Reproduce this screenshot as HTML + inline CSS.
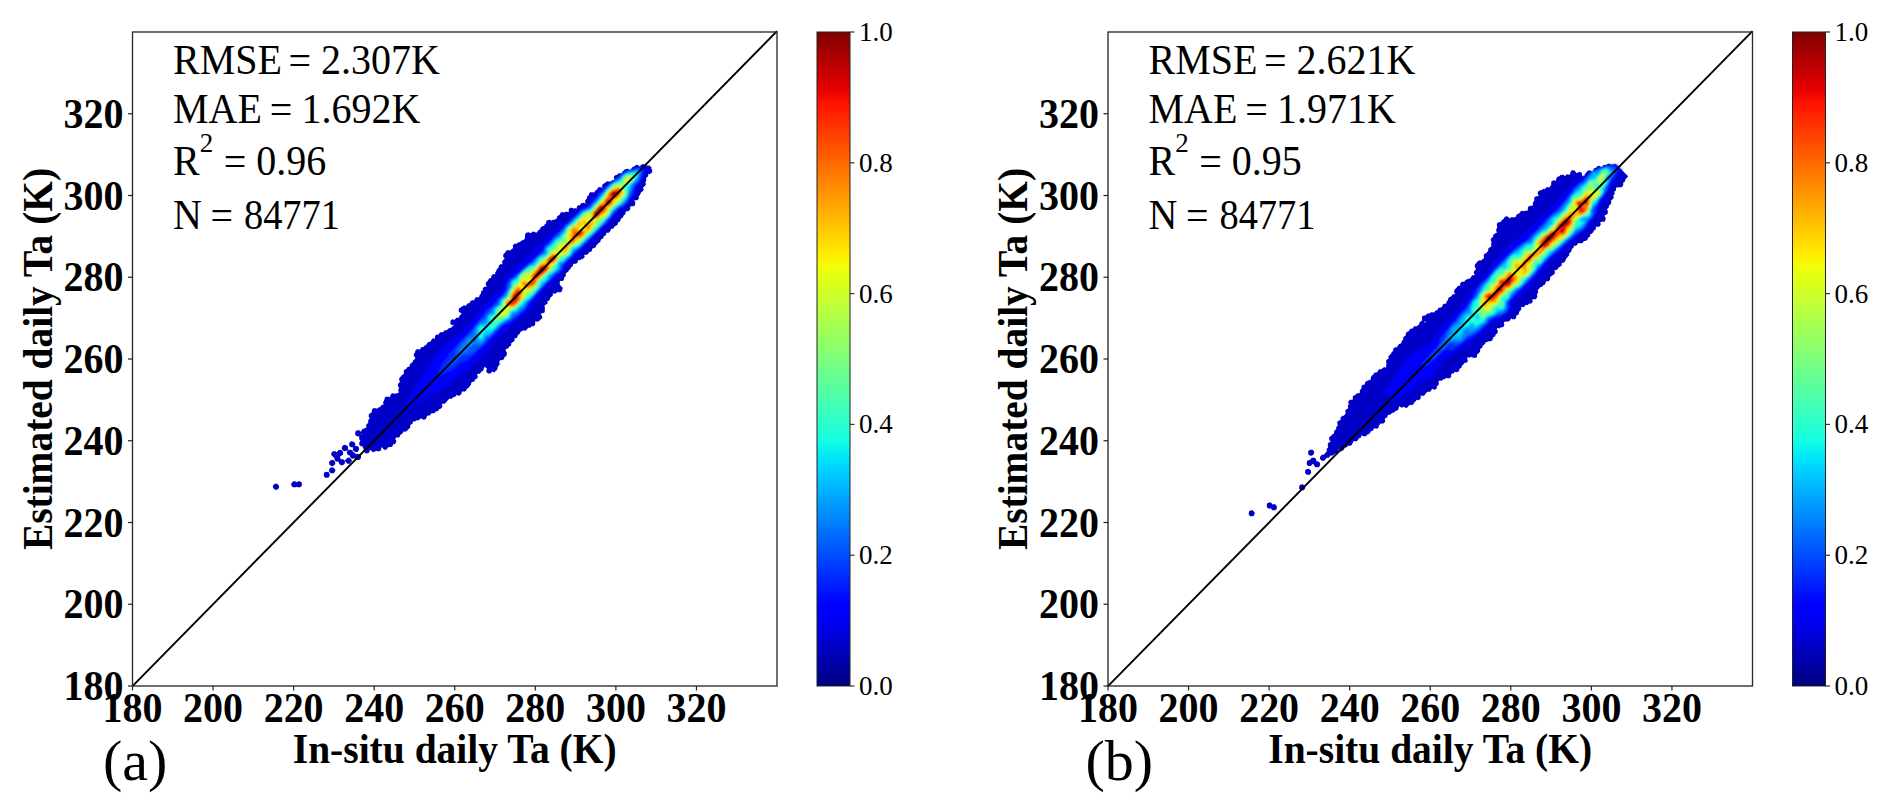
<!DOCTYPE html>
<html><head><meta charset="utf-8"><style>
html,body{margin:0;padding:0;background:#fff;width:1892px;height:810px;overflow:hidden}
svg{display:block}
.tb{font-family:"Liberation Serif",serif;font-weight:bold;font-size:40px;fill:#000}
.tr{font-family:"Liberation Serif",serif;font-size:40px;fill:#000}
.tc{font-family:"Liberation Serif",serif;font-size:27px;fill:#000}
</style></head><body>
<svg width="1892" height="810" viewBox="0 0 1892 810">
<defs><linearGradient id="jet" x1="0" y1="1" x2="0" y2="0"><stop offset="0" stop-color="rgb(0, 0, 128)"/><stop offset="0.11" stop-color="rgb(0, 0, 255)"/><stop offset="0.125" stop-color="rgb(0, 0, 255)"/><stop offset="0.34" stop-color="rgb(0, 219, 255)"/><stop offset="0.35" stop-color="rgb(0, 230, 247)"/><stop offset="0.375" stop-color="rgb(21, 255, 226)"/><stop offset="0.64" stop-color="rgb(239, 255, 8)"/><stop offset="0.65" stop-color="rgb(247, 245, 0)"/><stop offset="0.66" stop-color="rgb(255, 236, 0)"/><stop offset="0.89" stop-color="rgb(255, 19, 0)"/><stop offset="0.91" stop-color="rgb(232, 0, 0)"/><stop offset="1.0" stop-color="rgb(128, 0, 0)"/></linearGradient><filter id="bl" x="-5%" y="-5%" width="110%" height="110%"><feGaussianBlur stdDeviation="0.8"/></filter></defs>
<rect width="1892" height="810" fill="#fff"/>
<path fill="#0000c8" fill-rule="evenodd" d="M274.8 483.8L273.2 485.2L272.8 487.2L274.8 489.8L277.2 489.8L278.8 488.2L279.2 486.2L277.2 483.8ZM291.2 483.8L291.2 485.2L292.8 487.2L295.8 487.2L296.2 486.8L297.2 487.2L300.2 487.2L301.8 485.8L301.8 482.8L299.8 481.2L298.2 481.2L296.8 482.2L295.2 481.2L293.8 481.2L292.8 481.8ZM335.2 469.2L332.8 467.2L330.2 467.8L329.2 469.2L329.2 471.8L328.8 472.2L325.8 471.8L324.2 472.8L323.8 473.8L323.8 476.2L325.2 477.8L327.8 477.8L328.8 477.2L329.8 475.8L329.2 472.8L329.8 472.2L330.8 473.2L333.8 473.2L335.2 471.2ZM328.8 472.2L329.2 471.8L329.8 472.2L329.2 472.8ZM358.8 447.2L357.8 446.2L356.8 446.2L355.2 445.2L355.2 443.2L353.8 441.8L351.2 441.2L350.2 441.8L349.2 443.2L349.2 445.8L350.8 447.2L352.8 447.2L353.2 447.8L352.8 448.8L353.2 450.8L352.8 451.2L352.2 450.2L351.2 449.8L348.8 449.8L348.2 450.2L347.8 449.8L348.2 448.2L347.8 446.2L345.2 444.8L343.2 445.2L342.2 446.2L341.8 447.8L342.2 449.8L341.8 450.2L340.2 449.8L338.2 450.2L336.8 452.2L335.8 451.2L332.8 451.2L331.2 453.2L331.2 454.8L331.8 455.8L334.2 457.8L334.8 460.2L334.2 460.8L332.8 459.8L330.8 460.2L329.2 461.8L329.2 464.2L330.8 465.8L332.8 466.2L335.2 464.2L335.2 461.8L335.8 461.2L337.2 461.8L338.2 461.2L339.2 463.8L340.8 465.2L342.8 465.2L344.8 463.8L344.8 461.8L345.2 461.2L347.2 463.8L349.8 463.8L351.8 461.2L351.8 460.2L350.8 458.8L351.2 458.2L352.2 458.8L354.8 458.2L356.2 459.8L357.8 460.2L359.8 459.8L361.2 457.2L360.8 455.2L358.2 453.8L355.8 454.2L355.2 453.2L352.8 451.8L353.2 450.8L355.8 452.2L357.8 451.8L359.2 449.2ZM334.8 461.2L335.2 460.8L335.8 461.2L335.2 461.8ZM334.2 460.8L334.8 460.2L335.2 460.8L334.8 461.2ZM350.2 458.2L350.8 457.8L351.2 458.2L350.8 458.8ZM349.8 457.8L350.2 457.2L350.8 457.8L350.2 458.2ZM346.8 450.8L347.2 451.2L346.8 452.2L347.2 454.2L349.8 455.8L350.2 457.2L349.8 457.8L347.2 457.8L344.8 460.8L343.2 459.2L340.8 459.2L339.8 456.8L342.8 454.8L343.2 453.2L342.8 451.2L343.2 450.8L344.8 451.2ZM346.8 450.8L347.2 450.2L347.8 450.8L347.2 451.2ZM342.2 450.8L342.8 450.2L343.2 450.8L342.8 451.2ZM341.8 450.2L342.2 449.8L342.8 450.2L342.2 450.8ZM354.8 445.8L355.2 445.2L355.8 445.8L355.2 446.2ZM649.2 165.2L648.8 165.8L645.8 165.8L644.2 164.2L642.2 164.2L641.2 164.8L639.8 166.8L638.2 165.2L636.2 164.8L633.8 166.8L632.8 166.8L630.2 170.2L627.8 168.8L624.8 169.2L624.2 170.2L622.2 171.8L622.2 172.8L621.2 173.8L620.8 173.2L618.8 173.2L617.2 174.8L615.2 175.2L614.2 176.2L613.8 177.8L614.8 179.8L614.2 180.2L612.2 180.2L610.2 181.8L607.2 181.2L602.2 184.8L602.2 187.2L601.8 187.8L601.2 187.2L598.2 187.2L596.8 189.8L595.8 190.2L593.8 192.8L593.2 192.2L590.2 192.2L589.2 193.2L588.8 195.2L587.2 196.2L586.8 198.8L585.2 200.2L585.2 202.8L584.8 203.2L583.8 202.8L581.2 203.2L579.8 205.2L578.2 205.2L576.8 206.8L576.8 208.2L576.2 208.8L575.8 208.2L574.2 208.2L573.8 208.8L572.2 207.8L570.2 207.8L568.8 209.2L568.8 211.8L568.2 212.2L567.2 211.8L565.2 211.8L564.2 212.8L563.8 212.2L561.2 212.2L559.8 213.8L559.8 214.8L557.2 216.2L556.8 218.2L554.8 219.8L552.8 219.8L551.2 220.8L550.2 219.8L547.2 220.2L546.2 221.2L546.2 223.2L544.8 224.2L544.2 225.8L541.2 226.8L539.8 229.2L537.8 230.8L537.2 232.2L535.8 232.8L534.8 231.8L532.2 231.8L530.8 233.2L528.8 232.2L526.2 232.8L525.2 234.2L524.8 238.8L523.2 240.2L521.8 240.2L519.8 242.2L518.2 242.2L516.8 243.8L514.2 243.8L512.8 245.8L513.2 248.2L511.8 248.8L510.2 250.8L509.8 250.2L506.8 250.2L505.8 251.2L505.2 252.8L504.2 253.2L503.2 254.8L503.2 256.8L504.8 258.8L503.8 259.2L502.2 261.2L502.2 263.2L502.8 263.8L502.2 264.2L500.2 264.2L498.8 265.8L498.8 267.2L496.8 269.2L496.2 271.2L495.2 272.2L495.2 273.8L494.8 274.2L492.8 274.2L491.2 276.2L491.2 277.8L490.8 278.2L489.2 278.2L487.8 280.8L485.8 282.8L485.8 285.2L486.8 286.2L486.2 286.8L484.2 286.8L482.8 288.2L482.8 290.2L481.2 291.2L480.8 293.8L479.8 294.8L479.2 296.8L478.8 297.2L476.2 297.2L475.2 297.8L474.2 300.2L471.8 300.2L469.8 301.8L469.8 302.8L469.2 303.2L467.8 303.2L465.8 305.8L463.8 305.2L458.8 308.8L458.8 311.8L461.8 313.8L459.8 315.2L458.8 317.8L456.2 317.8L454.8 319.8L452.2 319.2L450.8 320.2L450.2 323.2L451.2 324.8L453.2 325.2L453.8 325.8L453.2 326.2L452.2 326.2L450.8 328.2L450.2 327.8L448.8 328.2L446.8 330.2L444.8 330.2L442.8 332.2L440.2 332.2L438.2 334.8L436.2 334.8L435.2 335.8L434.8 337.2L435.2 338.2L434.8 338.8L433.8 338.2L432.2 338.8L430.2 341.8L427.8 342.2L425.8 345.2L424.8 345.2L423.8 346.8L421.2 347.2L419.8 349.8L419.2 349.2L416.8 349.2L415.2 350.8L415.2 352.2L413.8 353.8L413.8 355.8L415.2 357.8L415.2 358.8L412.8 360.8L412.8 361.8L409.8 364.2L409.8 366.2L407.2 367.2L405.8 369.2L404.2 369.8L403.8 370.8L403.8 373.2L404.2 373.8L402.2 374.8L399.2 378.2L399.2 380.2L400.2 381.8L398.8 382.8L397.8 384.8L398.2 386.8L399.2 387.8L398.2 389.8L398.8 392.8L395.2 393.8L392.2 393.2L390.8 394.2L389.8 397.2L388.8 396.8L385.8 396.8L384.8 397.8L384.2 400.2L383.2 401.8L383.2 403.8L383.8 404.2L383.2 404.8L381.8 404.8L379.8 407.2L378.8 407.2L376.8 408.8L375.8 408.2L373.2 408.2L371.8 409.8L371.8 412.2L368.8 414.2L368.8 417.2L369.8 418.2L368.2 420.2L368.2 422.8L366.2 424.8L366.2 426.8L366.8 427.2L362.2 429.2L360.8 431.8L359.2 430.2L357.2 430.2L355.2 431.8L355.2 434.8L356.8 436.2L358.8 436.2L359.2 436.8L359.2 439.2L360.2 440.2L360.2 441.2L359.2 442.8L359.2 444.8L360.8 446.2L362.2 446.2L363.8 449.2L363.8 451.2L365.2 453.2L368.2 453.2L369.2 452.2L370.2 449.8L372.2 451.8L373.8 452.2L376.2 450.8L377.2 451.2L379.8 451.2L381.2 449.8L381.2 447.8L381.8 447.2L384.2 449.8L386.2 449.8L388.8 446.8L389.2 447.2L391.8 446.8L392.8 445.8L392.8 444.8L393.2 444.2L394.8 444.2L396.2 442.2L396.2 440.2L395.2 439.2L396.2 437.2L396.8 437.8L399.2 437.2L400.2 436.2L400.2 434.8L401.8 434.2L403.8 431.2L404.2 431.8L406.8 431.2L407.8 429.8L410.2 427.8L410.2 425.2L412.8 423.2L412.8 421.8L413.2 421.2L414.2 421.8L416.8 420.2L418.8 420.2L421.2 418.2L423.2 419.8L425.8 419.2L427.2 415.8L430.2 415.2L431.2 413.2L434.2 413.2L436.2 411.2L437.8 411.2L439.8 408.8L440.8 408.8L442.2 407.2L442.2 404.8L441.8 404.2L442.2 403.8L444.8 403.8L449.2 398.8L451.8 398.8L453.2 397.2L455.2 396.8L456.8 394.8L458.2 395.8L459.2 395.8L461.2 394.2L462.2 391.2L464.2 391.8L466.2 390.8L466.8 388.8L468.2 388.2L471.2 384.2L471.2 382.8L472.8 381.8L473.8 381.8L474.8 380.8L474.8 379.8L477.2 378.2L477.8 377.2L477.2 374.2L477.8 373.8L479.8 373.8L481.8 371.2L483.2 370.8L484.2 367.2L485.2 367.2L486.8 368.2L486.2 371.8L487.8 373.2L489.8 373.8L492.2 371.8L493.2 371.8L494.8 372.8L494.8 371.8L497.2 369.8L497.8 366.8L499.8 364.2L499.2 361.8L500.8 359.8L501.2 360.2L503.2 359.8L504.2 358.8L504.2 357.8L506.8 355.2L506.8 352.2L505.8 351.2L505.8 349.2L506.2 348.8L507.8 348.8L509.2 346.8L511.2 345.2L511.2 343.2L514.2 341.2L514.8 339.8L514.2 338.8L514.8 338.2L516.2 338.2L517.2 337.2L517.8 335.2L520.2 333.2L520.2 332.2L521.2 331.2L522.2 331.2L523.2 330.2L524.8 330.8L526.2 330.2L528.2 327.8L530.2 327.8L531.8 326.2L533.8 326.2L535.2 324.8L535.2 321.8L535.8 321.2L536.2 321.8L539.2 321.2L539.8 320.2L542.2 318.2L542.2 316.2L540.8 314.2L541.8 313.2L544.2 312.8L544.8 311.8L544.8 306.2L544.2 305.8L547.2 303.8L547.8 302.8L547.2 301.2L548.8 300.8L549.8 299.8L550.2 297.8L552.8 295.8L552.8 293.8L553.2 293.2L553.8 293.8L555.2 293.8L557.8 291.8L558.2 292.2L560.8 292.2L562.2 290.8L562.2 288.8L563.2 288.2L559.8 284.8L559.8 281.2L560.2 280.8L561.8 281.2L563.8 280.2L564.2 277.2L565.2 276.8L565.8 275.8L565.8 273.2L568.2 271.8L568.8 270.2L569.8 269.8L571.2 267.2L572.8 266.2L573.2 264.2L573.8 263.8L576.2 263.8L577.8 262.2L577.8 260.8L578.2 260.2L579.8 260.2L581.2 259.2L582.2 259.2L584.2 257.8L584.8 256.8L584.2 255.2L584.8 254.8L586.8 254.8L587.8 254.2L589.2 252.2L591.8 251.2L592.2 248.8L595.8 247.2L596.2 245.2L597.2 244.8L598.8 242.8L600.2 242.2L600.8 239.8L603.2 238.2L603.8 236.2L605.8 235.2L606.2 233.2L606.8 232.8L608.8 232.8L610.2 231.2L611.2 228.8L613.2 228.8L614.8 226.2L616.2 225.8L617.8 224.2L617.8 222.8L620.2 221.2L620.8 218.8L622.8 217.8L623.8 215.2L625.2 214.2L625.8 211.8L626.2 211.2L628.2 211.2L630.2 209.8L630.2 206.8L630.8 206.2L633.8 206.2L635.2 204.8L635.2 201.8L634.2 200.8L634.8 200.2L637.2 200.2L638.8 198.8L638.8 196.2L640.2 194.8L640.8 192.8L643.2 190.8L643.8 189.2L642.8 187.2L644.2 186.8L645.8 184.8L645.8 183.2L645.2 182.8L646.2 180.8L646.2 178.8L645.8 178.2L648.2 176.2L648.2 174.2L648.8 173.8L649.8 174.2L652.2 172.2L652.2 169.8L651.2 168.8L651.8 167.8ZM361.2 434.2L361.8 433.8L362.2 434.2L361.8 434.8ZM584.8 203.2L585.2 202.8L585.8 203.2L585.2 203.8ZM601.8 187.8L602.2 187.2L602.8 187.8L602.2 188.2Z"/>
<g filter="url(#bl)"><path fill="#0000f6" fill-rule="evenodd" d="M648.2 165.8L643.8 165.8L643.2 166.2L639.8 166.8L624.2 172.2L611.2 182.8L599.2 190.2L589.2 202.2L586.8 206.2L585.8 206.2L582.2 208.8L579.8 209.8L567.8 220.8L558.2 227.2L540.2 244.2L539.8 246.2L519.2 264.8L506.8 277.2L503.8 283.8L502.8 287.2L480.2 308.8L466.2 328.2L464.2 330.2L442.2 346.8L440.8 349.2L436.8 353.8L424.8 370.2L414.8 388.8L409.8 396.8L405.2 406.8L396.8 417.8L404.2 411.2L409.2 407.8L412.8 406.2L413.8 405.2L425.8 398.8L428.2 396.8L431.8 395.2L432.8 394.2L444.8 387.8L465.8 371.2L487.2 350.2L500.2 334.8L505.8 329.2L526.2 314.2L528.8 311.8L542.2 291.8L563.8 270.2L564.2 267.2L609.2 222.8L619.8 210.2L626.2 205.2L630.2 198.8L636.8 190.8L636.8 187.8L637.8 185.8L638.8 184.8L641.2 179.8L645.8 174.8L645.8 173.2Z"/>
<path fill="#0005ff" fill-rule="evenodd" d="M646.8 165.8L643.8 165.8L637.8 167.8L636.2 167.8L633.2 169.2L624.2 172.2L617.2 178.2L609.2 183.8L605.8 187.2L601.2 189.8L591.8 200.8L588.2 207.2L587.2 206.8L585.2 207.2L577.2 213.8L545.2 246.2L544.8 247.8L543.2 249.2L543.8 250.8L543.2 251.2L541.2 251.8L522.2 270.8L519.8 270.8L518.2 271.8L507.8 282.2L504.2 286.8L504.2 288.8L506.2 291.2L502.2 293.8L497.8 297.8L475.8 320.2L469.8 328.2L469.2 332.2L460.2 337.8L450.8 345.2L444.8 350.8L437.8 359.2L431.8 367.8L428.8 374.8L425.8 378.8L419.8 388.8L414.2 399.2L414.2 400.2L436.8 387.2L439.2 385.2L445.2 382.2L450.8 378.2L461.2 369.2L468.2 362.2L480.2 349.2L483.2 345.2L500.8 327.2L501.8 327.8L505.2 327.8L506.8 326.8L528.2 305.8L531.2 302.2L531.2 299.8L539.8 290.8L540.2 289.2L541.8 288.8L545.8 285.8L562.8 268.8L563.2 266.8L562.2 265.2L610.2 218.2L617.8 210.2L618.8 208.2L620.2 208.2L621.8 207.2L632.2 196.2L635.2 192.2L635.8 190.8L635.8 188.8L634.8 186.8L641.8 179.2L644.8 174.8L644.8 171.2Z"/>
<path fill="#002eff" fill-rule="evenodd" d="M642.8 167.2L641.2 167.8L636.2 167.8L633.2 169.2L624.2 172.2L617.2 178.2L610.8 182.8L599.2 193.8L595.2 200.2L587.8 208.2L584.8 208.2L582.8 209.8L560.8 230.8L544.2 248.8L544.2 251.2L541.2 254.2L537.2 256.8L520.8 272.8L518.8 273.2L516.2 274.8L509.8 280.8L506.2 285.8L506.2 288.8L507.2 290.2L506.8 291.2L491.8 306.8L485.2 312.2L482.2 316.8L478.2 321.2L476.2 325.2L472.8 329.8L450.2 352.8L448.2 356.2L442.2 364.2L441.8 366.2L439.2 370.8L438.8 375.2L440.2 375.2L446.2 371.8L450.8 370.2L453.2 368.2L455.8 367.2L459.8 362.8L461.8 361.8L466.2 360.8L473.2 354.8L500.8 326.2L503.2 324.2L506.8 323.8L510.8 321.8L524.8 308.8L528.8 303.8L529.2 301.2L535.2 294.8L537.8 290.8L545.2 283.2L548.2 281.8L561.8 269.2L562.2 268.2L561.8 265.2L606.2 221.8L614.2 212.2L619.8 206.8L620.8 206.8L623.2 205.2L629.2 198.8L632.8 193.8L633.8 187.2L641.8 177.8L642.2 173.2L642.8 172.8L642.8 170.8L642.2 170.2L642.2 167.8Z"/>
<path fill="#0057ff" fill-rule="evenodd" d="M640.2 168.8L635.8 168.8L633.8 169.8L630.8 169.8L622.8 173.8L617.2 178.8L613.2 181.2L602.8 191.8L596.2 200.2L587.8 208.8L583.2 209.8L553.2 239.2L544.8 248.2L544.8 251.2L542.2 253.8L529.8 264.2L518.2 275.2L515.2 276.8L510.8 280.2L509.2 282.2L507.8 285.8L508.2 289.2L507.2 291.2L503.2 295.8L498.8 299.8L496.2 304.2L488.8 310.8L485.8 314.8L485.8 315.8L484.8 317.2L478.2 323.8L473.2 330.2L459.2 344.2L455.2 351.2L455.8 357.2L449.8 361.8L447.2 366.2L449.8 365.8L454.2 363.2L461.2 356.2L464.2 354.8L468.8 354.8L474.2 352.2L477.8 348.2L479.2 347.8L481.8 345.8L485.8 340.8L489.2 337.8L501.2 325.2L506.2 321.2L508.2 321.2L511.2 319.8L515.2 316.2L517.2 315.2L524.2 308.8L525.8 306.8L526.8 303.8L529.8 299.8L533.8 295.8L537.8 290.2L555.8 272.8L558.2 271.8L561.8 268.2L561.2 265.2L605.8 221.8L612.2 213.8L619.8 206.2L623.2 204.8L627.8 199.8L631.2 193.2L631.8 189.8L632.8 187.8L638.2 181.2L640.2 177.8L640.8 173.8L641.2 173.2L641.2 170.2Z"/>
<path fill="#0080ff" fill-rule="evenodd" d="M639.8 169.8L635.8 169.8L633.2 170.8L629.2 171.2L622.2 175.2L619.8 178.2L612.2 182.8L607.2 187.8L603.8 192.8L589.2 208.2L585.8 210.2L582.2 211.2L564.8 228.2L563.8 230.2L558.2 235.8L554.8 238.2L551.2 242.8L545.2 248.2L545.2 250.8L543.2 253.2L538.2 257.2L531.2 264.2L529.2 265.2L515.2 278.2L512.8 279.2L510.8 281.2L509.2 285.2L509.2 288.8L504.2 296.2L499.8 299.8L498.8 304.2L497.2 305.8L494.2 307.2L490.8 311.8L486.8 315.8L485.8 318.2L482.2 320.8L477.2 325.8L474.8 329.2L472.8 335.2L471.2 336.2L468.8 336.8L465.8 339.8L464.8 342.2L461.2 345.2L460.2 348.8L458.8 350.8L458.8 353.8L459.2 354.2L465.8 351.8L467.2 350.8L470.8 346.8L474.2 344.8L481.2 344.8L483.2 342.8L485.2 339.2L485.2 338.2L486.8 336.8L489.2 336.8L492.2 333.2L502.8 323.2L507.8 319.8L508.8 319.8L511.2 318.2L514.2 314.8L517.2 313.8L521.2 309.8L523.8 308.2L525.2 304.8L533.2 295.8L537.8 289.8L553.8 273.2L560.8 268.2L560.8 264.8L562.8 263.2L567.8 257.8L570.2 256.2L572.8 252.8L576.2 249.2L578.8 247.8L604.8 222.2L609.8 216.8L612.2 212.8L618.2 206.8L624.2 203.2L627.2 199.2L628.8 196.2L630.2 191.2L632.8 187.2L632.8 185.2L637.2 180.8L639.2 177.2L639.2 175.8L640.2 173.8Z"/>
<path fill="#00a8ff" fill-rule="evenodd" d="M464.8 348.8L463.2 349.2L461.8 351.2L462.8 351.2ZM471.2 340.2L469.8 339.8L468.2 340.2L467.8 341.2L467.8 344.2L468.2 345.2L470.8 344.8L472.2 343.2L472.2 341.2ZM638.8 170.8L634.8 170.8L632.8 171.8L628.2 172.2L623.2 175.2L619.2 179.8L616.2 181.8L614.2 182.2L611.8 183.8L606.8 189.2L604.8 192.2L599.8 197.2L598.2 199.8L593.2 204.8L590.8 208.2L587.8 209.2L583.8 211.8L581.8 212.2L576.8 217.8L574.8 218.8L573.8 220.2L565.8 227.8L564.2 231.2L561.2 233.8L560.2 235.8L559.2 236.8L555.8 238.2L553.8 240.2L552.2 242.8L545.8 248.2L545.8 252.8L542.8 254.2L539.2 256.8L535.2 260.8L533.2 263.8L529.2 265.8L521.2 272.8L515.8 278.8L511.8 280.8L510.8 283.2L510.8 287.2L508.2 290.2L505.8 296.2L501.2 299.2L500.2 301.2L499.8 304.2L493.8 309.2L492.8 311.2L492.8 312.8L488.2 315.2L487.2 317.2L486.2 321.8L484.2 323.8L480.8 323.8L479.2 324.8L476.2 328.8L476.2 331.2L475.8 331.8L475.8 334.2L476.2 334.8L476.8 339.8L477.8 341.2L480.2 342.2L482.8 341.2L484.2 338.8L484.8 336.8L486.2 335.2L489.8 335.2L491.8 332.2L500.2 324.2L508.8 318.8L511.2 316.2L511.8 314.2L513.2 312.8L517.2 312.2L520.2 307.8L522.8 307.8L525.2 303.2L533.2 295.2L535.8 291.8L542.2 284.8L547.8 279.8L550.2 276.2L560.2 267.2L559.8 266.8L559.8 263.8L560.8 262.8L563.2 262.2L568.2 256.8L570.8 255.2L572.8 251.2L574.8 249.2L579.2 246.8L591.2 235.2L595.8 230.2L603.8 222.8L605.8 219.8L610.2 215.2L612.2 211.8L616.8 207.2L623.8 202.8L626.8 198.8L628.8 193.8L628.8 192.2L631.2 188.8L630.8 187.8L631.2 184.8L633.2 183.2L637.8 178.2L637.8 177.2L639.2 174.2L639.2 171.2Z"/>
<path fill="#00d1ff" fill-rule="evenodd" d="M637.8 171.2L634.2 171.8L631.8 172.8L627.2 173.2L623.2 175.8L621.8 178.2L619.8 180.2L612.8 183.8L600.2 197.2L598.2 200.8L593.2 205.8L591.2 208.8L586.8 210.2L585.8 211.2L582.2 212.8L577.8 217.8L575.8 218.8L570.8 224.2L566.8 227.2L565.2 229.8L564.8 231.8L559.2 237.8L555.8 239.2L552.2 244.2L549.8 246.2L548.2 246.8L546.2 248.8L547.2 253.2L545.8 254.8L543.2 255.2L538.8 257.8L537.2 259.2L535.8 262.8L534.2 264.2L529.8 265.8L523.2 271.2L518.2 276.2L516.2 279.2L512.8 280.8L511.8 281.8L511.8 286.2L508.2 291.2L507.2 295.2L505.8 297.2L503.8 298.2L501.2 300.8L501.2 302.8L500.2 304.8L498.8 306.2L495.2 308.2L494.2 309.8L494.2 313.2L492.2 314.8L489.8 315.2L488.2 316.8L488.2 321.8L484.8 325.2L481.2 324.8L478.2 327.2L477.8 328.2L477.8 337.2L478.8 339.8L481.8 340.2L483.2 338.8L483.8 335.8L485.2 333.8L486.8 333.8L487.2 334.2L489.8 333.8L499.2 323.8L508.8 318.2L509.8 317.2L511.2 313.2L512.8 311.8L516.2 311.2L519.8 306.8L522.8 305.8L524.8 302.2L528.2 299.8L540.8 286.8L541.8 285.2L541.8 284.2L543.8 283.2L547.8 279.2L548.8 276.2L558.8 267.8L558.2 263.8L559.8 262.2L561.2 262.2L563.8 261.2L566.8 257.2L570.2 255.2L572.8 249.8L579.8 245.8L602.8 223.2L604.8 220.2L609.8 215.2L611.2 212.2L617.2 206.2L622.8 202.8L627.8 195.2L627.8 193.2L629.8 189.2L629.8 185.2L635.2 180.2L638.2 175.2L638.2 171.8Z"/>
<path fill="#15ffe2" fill-rule="evenodd" d="M637.2 172.2L633.2 172.8L632.8 173.2L630.2 173.2L629.8 173.8L627.2 173.8L623.2 176.2L621.8 179.2L620.2 180.8L616.8 182.2L615.8 183.2L612.8 184.2L612.2 185.2L608.2 188.8L603.8 194.8L600.2 198.2L597.8 202.2L594.2 205.2L593.2 207.2L590.2 210.2L587.2 210.8L583.2 212.8L578.8 217.8L576.8 218.8L571.8 224.2L569.2 225.8L566.2 228.8L565.2 232.2L561.8 235.8L560.8 237.8L558.2 239.2L557.2 239.2L554.2 243.2L550.8 246.8L549.2 247.2L547.8 248.8L547.2 250.2L547.8 250.8L547.8 253.8L545.8 255.8L541.8 256.8L539.2 258.2L536.8 263.2L535.2 264.8L533.2 265.8L530.8 265.8L524.8 270.2L518.8 276.2L516.2 280.2L514.2 280.8L512.2 282.2L512.2 286.2L508.8 291.8L507.8 295.8L505.2 298.2L502.2 300.2L501.2 304.2L498.2 307.2L496.8 307.8L495.2 309.2L494.8 310.8L495.2 311.8L495.2 314.2L493.8 315.2L490.2 315.8L489.2 316.8L489.2 319.2L490.8 321.8L490.2 322.8L484.8 326.8L480.2 326.2L478.8 328.2L478.8 329.8L479.2 330.2L478.8 336.2L480.2 338.8L481.8 338.8L482.2 338.2L483.2 333.8L486.2 329.8L488.2 329.8L489.8 330.8L492.8 329.8L499.2 322.8L504.2 319.8L507.2 318.8L509.8 316.2L510.2 312.8L511.8 311.2L516.2 310.2L518.2 307.2L519.8 305.8L521.2 305.2L525.2 300.2L528.8 298.8L540.2 286.8L540.2 283.8L542.2 281.8L544.8 280.8L546.2 279.2L547.8 275.2L552.8 272.2L556.8 268.8L557.8 267.2L557.8 265.8L557.2 265.2L557.8 262.8L559.8 261.2L562.2 261.2L563.2 260.8L567.2 256.2L568.8 255.8L570.8 253.8L571.8 249.8L573.2 248.2L575.2 247.8L579.8 245.2L587.2 237.2L590.2 235.2L602.2 223.2L604.2 220.2L609.8 214.8L611.8 210.8L615.2 207.2L621.8 202.8L622.2 201.2L626.8 196.2L628.8 185.8L633.8 181.2L637.2 176.2Z"/>
<path fill="#3effb9" fill-rule="evenodd" d="M480.8 327.8L480.2 328.8L481.2 332.2L482.8 331.8L483.8 330.2L483.8 329.2L482.2 327.8ZM635.8 173.8L626.2 174.8L623.2 177.2L622.2 179.8L620.2 181.8L613.2 184.8L612.2 186.2L605.8 192.2L603.8 195.8L600.8 198.8L599.8 200.8L594.8 205.8L593.8 207.8L590.8 210.8L586.2 211.8L583.8 213.2L573.8 223.8L570.8 225.2L567.2 228.2L565.8 232.8L562.8 235.8L561.8 237.8L559.8 239.8L558.8 239.8L557.2 240.8L554.8 244.8L550.2 248.8L549.8 250.8L548.8 251.8L548.2 254.2L546.2 256.2L543.8 257.8L540.8 258.2L538.2 262.8L534.8 266.2L529.8 267.2L527.8 269.2L524.8 270.8L520.8 274.2L518.8 277.2L517.8 280.8L516.2 281.8L513.2 282.2L513.2 285.8L509.2 292.2L508.8 295.8L507.8 297.2L504.2 299.2L502.8 300.8L502.8 302.2L501.8 304.8L499.2 307.2L497.8 307.8L495.8 310.2L496.8 312.2L496.2 314.8L493.8 316.2L491.8 316.8L490.8 317.8L492.2 320.8L492.2 321.8L493.2 322.8L493.2 324.2L491.2 326.8L487.8 326.2L488.2 327.2L491.2 328.2L494.2 327.2L495.8 324.2L497.2 322.8L501.2 320.8L502.8 319.2L507.2 317.8L508.8 315.8L508.8 314.2L509.8 311.8L511.2 310.2L515.8 309.2L517.2 307.2L521.8 303.2L524.2 299.8L527.8 298.2L530.2 295.2L533.2 294.2L534.8 292.8L535.8 290.2L537.8 288.2L538.8 286.2L539.2 283.2L542.8 278.2L544.2 277.2L547.2 273.8L548.8 272.8L551.2 272.2L553.2 270.8L556.2 267.2L556.2 263.8L556.8 262.8L558.8 260.8L562.8 259.8L566.2 256.2L568.8 255.2L570.2 253.2L570.8 249.8L572.8 247.2L575.8 246.8L578.2 244.8L579.8 244.2L588.2 235.2L593.2 232.2L594.8 229.2L596.8 227.2L599.2 225.8L605.8 217.8L608.8 215.2L611.8 209.8L616.2 205.8L619.8 203.8L621.8 200.8L625.2 197.2L626.8 194.2L626.8 191.8L625.8 189.2L627.8 185.8L634.2 179.8L635.8 177.2Z"/>
<path fill="#67ff90" fill-rule="evenodd" d="M633.8 175.2L627.2 175.2L624.2 176.8L623.2 179.8L620.8 182.8L617.8 183.2L614.2 184.8L606.2 192.2L605.8 193.8L601.2 199.2L600.2 201.2L594.2 207.2L591.8 210.8L583.8 213.8L580.8 218.2L578.2 219.8L574.8 223.8L570.2 226.2L567.8 228.8L566.2 233.2L563.2 236.2L562.2 239.2L560.8 240.8L558.8 241.2L556.8 243.2L556.2 244.8L554.2 246.8L551.8 248.2L550.8 251.2L547.8 255.8L545.2 257.8L541.8 259.2L538.8 263.2L534.2 267.8L531.2 267.8L530.2 268.2L527.8 270.8L524.2 271.8L520.8 274.8L518.2 281.8L516.8 283.2L514.8 283.8L514.2 285.8L510.2 291.2L509.2 296.2L503.2 301.2L503.2 302.8L502.2 305.2L497.2 309.2L496.8 310.8L498.2 313.2L495.8 316.2L492.8 317.8L493.8 320.8L496.2 321.2L498.8 320.2L500.8 320.2L503.8 317.2L506.2 316.8L507.8 315.2L508.2 312.8L511.8 309.2L514.8 308.8L516.2 307.8L521.8 301.8L523.8 298.8L526.8 297.8L527.8 296.8L528.2 294.8L529.8 293.2L531.8 292.8L536.8 287.8L539.2 280.8L541.2 278.2L547.8 272.2L551.2 270.8L552.8 269.2L554.2 266.8L554.8 264.8L556.8 262.8L557.2 261.2L559.8 259.2L560.2 257.8L562.2 256.2L562.8 256.8L564.8 256.8L565.8 255.8L568.2 254.8L569.8 252.8L570.2 248.8L571.8 246.8L576.2 245.8L588.2 234.2L589.8 233.8L592.8 231.2L593.2 229.2L598.2 225.2L601.2 221.8L604.8 218.8L609.2 213.8L610.8 210.2L615.2 205.8L618.2 204.2L620.8 201.8L622.2 198.8L625.8 195.2L626.2 193.2L625.2 190.8L625.2 188.2L627.2 185.2L633.2 180.2L633.8 179.2Z"/>
<path fill="#90ff67" fill-rule="evenodd" d="M632.8 176.2L628.8 175.8L625.8 176.8L621.2 184.2L616.8 184.2L614.8 185.2L611.2 188.8L609.8 189.2L606.8 192.2L605.8 193.8L605.8 194.8L601.2 200.8L594.8 207.2L593.8 209.2L591.2 211.8L588.2 212.2L587.2 213.2L584.8 213.8L582.2 217.8L580.2 219.8L578.8 220.2L573.8 225.2L568.8 228.2L566.8 233.8L563.8 237.2L563.8 238.8L565.2 240.2L565.2 241.2L563.8 242.8L561.8 242.8L561.2 242.2L558.2 242.8L556.8 245.2L556.2 247.2L553.2 248.2L551.8 249.8L551.8 250.8L549.2 254.8L544.2 259.2L541.8 260.2L534.2 268.8L531.2 269.8L530.8 271.8L529.2 273.2L527.2 272.2L525.2 272.2L522.2 274.2L520.2 277.8L520.2 279.2L518.8 282.8L516.2 284.2L511.8 289.8L510.2 292.8L509.8 296.2L508.8 297.8L504.2 300.8L503.2 303.2L502.8 306.8L499.2 308.2L498.2 309.2L498.2 310.8L499.2 311.8L499.2 313.8L494.2 318.2L494.8 319.8L503.2 317.8L506.2 315.2L513.2 307.8L515.2 307.2L521.2 300.8L526.8 295.8L528.2 293.2L536.2 286.8L538.2 280.8L544.2 274.8L550.8 269.2L556.2 262.8L557.2 260.8L559.2 258.8L559.8 257.2L562.2 255.2L564.2 255.8L567.8 254.2L569.2 252.2L569.8 248.2L571.8 246.2L574.2 245.8L577.2 244.2L587.8 233.8L591.2 231.8L592.2 228.2L596.8 224.8L596.8 223.8L598.2 221.8L600.8 220.8L601.8 219.8L602.8 219.8L604.8 217.2L608.2 214.2L610.8 208.8L615.2 204.8L616.2 204.8L620.2 201.2L621.2 198.8L625.2 194.8L625.2 191.8L624.2 190.2L624.2 186.8L628.2 182.8L630.8 182.2L632.8 179.8Z"/>
<path fill="#b9ff3e" fill-rule="evenodd" d="M622.2 186.2L617.8 184.8L615.2 185.8L612.2 188.8L609.8 189.8L607.2 192.2L605.8 195.8L601.2 201.8L595.8 206.8L594.2 209.2L589.8 213.8L588.2 212.8L585.2 214.2L583.8 216.8L574.8 225.2L572.2 226.2L568.8 229.2L568.2 232.2L565.2 236.2L565.2 238.2L566.8 239.8L566.8 241.2L564.8 243.2L563.8 243.8L559.2 243.2L557.8 245.2L557.8 248.8L556.2 249.8L555.8 249.2L553.8 249.2L552.2 250.8L550.2 254.2L544.2 260.2L541.2 261.8L536.2 267.8L532.2 270.8L531.8 272.2L529.8 274.2L524.8 273.8L522.2 276.2L519.2 283.2L517.8 284.8L516.8 284.8L513.8 287.8L511.8 290.8L510.8 293.2L510.8 294.8L509.2 297.8L507.8 299.2L504.8 300.8L503.8 304.2L505.2 307.8L503.8 309.8L501.8 309.8L501.2 309.2L500.2 309.8L500.8 313.2L498.8 315.8L498.8 316.8L499.8 316.2L504.8 316.2L508.2 312.8L509.2 310.8L515.2 306.2L521.2 299.8L525.8 295.8L526.2 294.2L528.8 292.2L532.2 288.2L534.8 287.2L535.8 286.2L536.8 282.2L550.2 269.2L551.8 266.8L556.2 262.2L556.8 260.8L558.8 258.8L558.8 257.8L560.2 255.2L566.8 253.8L568.2 252.2L569.2 248.2L571.2 245.8L576.8 243.8L582.2 238.8L587.2 233.2L590.8 230.8L591.8 227.8L595.2 224.8L595.8 222.2L597.2 220.2L600.2 218.8L602.8 218.8L604.2 216.8L608.2 213.2L609.8 208.8L615.2 203.8L617.8 202.8L619.8 200.2L620.8 197.8L624.2 194.8L624.8 192.8ZM525.8 293.8L526.8 292.2L527.8 292.8L526.2 294.2ZM632.2 177.2L631.2 176.8L626.8 177.2L625.2 178.8L623.8 181.8L623.8 184.2L624.8 184.8L627.8 182.2L630.2 181.8L631.8 180.2Z"/>
<path fill="#e2ff15" fill-rule="evenodd" d="M621.2 186.8L619.2 185.8L616.8 185.8L613.2 188.8L609.8 190.2L608.2 191.8L605.8 196.8L603.8 198.8L602.8 200.8L596.2 206.8L594.8 209.2L591.8 212.2L590.8 215.8L589.2 217.2L588.8 219.8L587.8 220.8L585.8 218.8L588.2 215.2L587.8 213.8L586.8 213.8L582.8 218.2L574.2 226.2L569.8 228.8L568.8 232.8L566.8 235.8L566.8 237.8L568.8 239.8L568.8 240.8L563.8 244.8L559.8 244.2L558.8 245.2L558.8 247.2L559.8 249.2L557.8 253.2L556.8 253.2L555.2 250.8L553.8 250.8L543.2 261.8L541.2 262.8L530.2 274.8L528.8 275.2L528.2 274.8L526.8 274.8L525.8 275.2L525.8 277.2L527.2 278.2L528.8 278.2L529.8 279.8L529.2 280.2L527.2 280.2L526.8 279.8L522.2 279.2L520.8 280.8L519.8 283.8L518.8 284.8L516.2 285.8L513.2 289.2L509.8 297.8L504.8 301.8L504.2 303.2L506.2 307.2L506.8 309.8L506.2 310.8L504.8 311.8L503.2 311.2L502.2 311.8L502.2 312.8L503.8 314.8L505.8 315.2L507.2 313.8L507.8 310.8L509.8 308.8L511.8 308.8L513.2 307.8L524.8 295.8L523.8 294.2L523.8 292.8L525.2 290.8L527.8 291.2L532.2 286.8L533.8 286.8L535.2 285.2L535.2 283.8L539.8 278.8L549.8 269.2L555.8 262.2L558.2 258.8L558.8 257.2L558.2 256.2L559.8 254.2L562.8 254.2L566.2 252.8L567.8 251.2L568.8 247.8L570.2 245.8L576.2 243.2L590.2 230.2L591.2 227.8L594.8 224.8L594.8 221.2L599.8 217.2L602.2 217.8L608.2 212.2L608.8 208.8L611.2 206.8L615.2 202.2L616.8 201.8L619.2 199.2L620.8 196.8L623.8 194.2L623.2 189.8ZM582.2 227.8L582.8 227.2L583.2 227.8L582.8 228.2ZM631.2 177.8L628.2 177.8L627.2 178.2L625.8 181.8L629.8 181.2L631.2 179.2Z"/>
<path fill="#ffde00" fill-rule="evenodd" d="M555.8 254.2L554.8 252.8L553.2 252.8L551.8 253.8L543.2 262.8L540.2 264.2L532.2 273.8L528.8 276.2L528.8 276.8L530.8 278.2L530.8 279.8L529.2 281.2L526.2 281.2L525.8 280.8L522.2 280.2L520.8 281.8L520.8 284.8L521.2 285.8L522.8 286.8L522.2 288.2L519.2 285.8L516.2 286.2L514.2 288.8L509.8 298.8L508.8 299.8L506.8 300.2L504.8 302.8L505.8 305.2L507.8 307.8L512.8 307.8L515.2 305.8L523.2 297.2L522.8 293.8L523.2 293.2L523.8 289.8L524.2 289.2L526.2 289.2L528.8 290.2L550.8 267.8L550.8 265.2L552.2 263.8L554.8 262.8L557.8 258.8L557.8 255.2ZM559.8 245.8L560.2 246.8L561.8 246.8L562.2 246.2L561.2 245.2ZM620.8 187.2L619.8 186.8L616.2 186.8L614.8 188.2L609.8 190.8L608.8 191.8L606.2 196.8L602.8 201.8L599.8 203.8L592.2 212.2L591.2 217.2L589.8 219.2L590.2 219.8L590.2 221.2L588.8 222.8L587.8 222.8L584.2 218.8L584.2 217.8L586.8 215.8L587.2 214.8L586.8 214.2L585.8 214.8L574.8 226.2L570.2 229.2L569.8 230.8L569.8 232.8L570.2 233.2L568.2 235.8L568.2 236.8L569.8 238.8L569.8 240.8L563.2 246.8L562.8 248.8L559.8 251.8L559.8 252.8L563.8 253.2L566.8 251.2L568.2 248.8L568.8 246.8L570.8 244.8L572.8 244.2L576.2 242.2L578.8 239.2L581.8 237.8L585.2 233.8L590.2 229.2L591.2 226.8L594.2 224.2L593.8 220.8L594.8 219.8L596.8 219.2L600.8 215.8L607.2 212.2L608.2 207.8L611.8 205.8L613.2 202.8L616.2 199.8L617.8 199.2L622.8 193.8L622.8 190.2ZM582.8 224.8L584.8 226.2L584.8 228.8L583.2 229.8L581.8 229.8L580.2 228.8L579.8 227.8ZM630.2 178.8L629.2 178.8L628.2 180.2L628.8 180.8L629.8 180.2Z"/>
<path fill="#ffaf00" fill-rule="evenodd" d="M518.8 286.8L517.2 286.2L515.8 287.8L510.8 296.8L510.2 299.2L509.2 300.2L507.8 300.2L505.8 301.8L505.8 303.8L507.2 306.2L513.2 307.2L521.2 299.2L521.2 296.2L522.8 292.8L522.8 290.2ZM556.8 255.2L554.2 253.8L551.2 254.8L546.8 259.2L545.8 261.2L543.8 263.2L540.2 264.8L530.8 275.8L530.8 277.2L531.8 278.8L531.8 279.8L529.8 281.8L526.8 282.2L524.2 281.2L521.8 281.2L521.2 283.2L524.8 288.2L528.2 288.8L530.8 287.2L531.8 287.2L536.8 282.2L537.8 280.2L541.2 276.2L545.2 273.2L549.2 269.2L549.8 268.2L549.8 264.8L550.8 263.8L554.2 262.2L557.2 258.8L557.2 256.2ZM579.8 221.8L579.2 221.8L577.2 224.2L578.2 225.8L579.8 225.8L580.8 224.8L580.8 222.8ZM593.2 222.8L591.8 221.8L589.2 223.8L586.8 224.2L585.8 222.2L583.8 220.8L583.2 222.2L585.8 225.2L585.8 229.8L584.8 230.8L580.8 230.2L580.2 229.8L577.8 229.8L575.2 226.2L572.8 227.8L570.2 230.8L571.8 232.8L571.8 234.2L570.2 236.8L571.2 239.2L570.2 241.2L565.2 245.8L561.8 251.8L564.8 251.8L567.2 249.2L567.8 247.2L569.8 244.8L574.2 242.8L575.8 241.2L576.8 238.8L580.8 237.8L586.2 231.8L589.2 229.8L590.8 226.8L593.8 223.8ZM586.2 214.8L584.8 216.2L585.2 216.2ZM620.2 187.8L617.2 187.2L614.2 189.2L611.2 190.2L608.8 192.8L606.8 196.8L604.2 199.8L603.8 201.8L602.2 203.2L600.2 203.8L592.8 212.2L592.2 213.2L592.2 216.8L591.8 217.2L591.8 218.8L592.2 219.2L594.2 219.2L597.8 218.2L601.2 214.8L606.2 211.2L607.2 208.2L612.2 204.2L613.2 201.2L615.8 198.8L617.2 198.2L621.8 193.2L622.2 190.8Z"/>
<path fill="#ff8000" fill-rule="evenodd" d="M518.8 287.8L517.2 287.8L512.2 294.2L511.2 296.2L511.2 298.8L509.8 300.8L506.2 301.8L506.2 303.2L508.2 305.8L514.2 306.2L520.2 300.2L520.2 296.2L521.8 293.8L522.2 291.2L521.8 290.2ZM554.8 254.8L552.2 254.8L550.8 255.8L547.2 259.2L545.8 262.2L546.2 262.8L545.8 264.2L544.2 263.8L543.8 264.2L542.2 264.2L538.8 266.8L536.2 270.8L532.2 274.8L531.8 275.8L532.2 279.8L530.8 281.8L527.2 283.2L526.2 283.2L524.8 282.2L522.8 282.2L522.8 283.8L524.8 285.8L525.2 287.2L527.8 287.8L530.2 286.2L532.8 286.2L535.8 283.2L536.8 279.8L548.2 269.8L548.8 268.8L548.8 264.8L550.2 263.2L554.2 261.8L556.2 259.8L556.8 258.8L556.8 256.2ZM585.2 232.2L582.8 230.8L576.8 230.8L574.2 227.8L573.2 227.8L571.2 229.8L572.8 231.8L572.2 238.8L571.2 240.8L566.2 245.2L564.8 248.8L565.2 249.2L566.2 248.8L567.2 246.8L570.2 243.8L574.2 241.8L575.2 239.2L577.2 237.2L580.2 237.2L581.2 236.8ZM590.8 224.8L588.2 224.8L586.8 225.8L587.2 230.2L589.2 228.8ZM620.2 188.8L619.2 188.2L615.8 188.8L613.2 190.2L611.2 190.8L609.2 192.8L607.8 196.2L605.2 199.2L604.2 202.2L602.8 203.8L600.2 204.2L593.2 212.2L592.8 213.2L592.8 217.8L593.8 218.2L596.8 218.2L597.8 217.8L605.8 210.8L606.8 208.8L606.8 207.2L611.8 204.2L613.2 199.8L618.2 196.8L621.2 192.8L621.2 190.2Z"/>
<path fill="#ff5000" fill-rule="evenodd" d="M521.2 290.8L517.8 288.8L515.2 291.2L511.8 295.8L511.8 299.8L510.2 301.2L507.2 302.2L507.2 303.8L508.8 305.2L514.8 305.2L516.8 303.8L519.2 299.2L519.2 296.8L521.2 293.2ZM547.8 265.2L545.8 265.8L543.8 264.8L542.2 264.8L540.2 265.8L537.2 270.2L533.2 274.2L532.2 276.2L533.2 278.8L532.8 280.2L530.8 282.2L526.8 284.2L525.8 285.2L525.8 286.2L527.2 286.8L529.8 285.2L532.2 285.2L533.2 285.8L535.8 282.8L535.2 279.8L546.2 271.2L547.8 269.2L548.2 267.8ZM556.2 256.2L554.2 255.2L552.2 255.2L547.2 259.8L546.8 261.8L547.8 262.8L549.8 263.2L552.2 261.8L554.2 261.2L556.2 258.8ZM583.8 232.2L582.2 231.2L578.8 231.2L578.2 231.8L575.8 231.8L574.8 231.2L573.2 234.2L573.8 237.8L569.8 243.2L572.2 242.2L574.2 240.2L574.2 239.2L576.8 236.8L581.2 236.2L583.8 233.8ZM619.8 189.2L616.8 189.2L614.8 190.2L613.2 190.2L610.2 192.2L608.8 194.8L608.8 197.2L605.8 199.8L604.2 203.2L603.2 204.2L600.2 204.8L593.2 212.8L592.8 214.8L593.2 215.2L593.2 216.8L594.2 217.8L596.8 217.8L597.8 217.2L605.8 209.8L605.8 206.8L606.8 205.8L609.8 205.2L611.2 204.2L612.8 199.2L613.8 198.2L616.8 197.2L620.2 193.2L620.8 190.8Z"/>
<path fill="#ff2100" fill-rule="evenodd" d="M520.8 291.2L518.8 290.2L517.2 290.2L513.2 294.2L512.2 295.8L512.2 300.8L511.2 301.8L508.2 302.8L508.2 303.8L509.2 304.8L511.2 304.8L514.8 303.8L516.2 300.8L518.2 298.8L518.8 295.2L520.2 293.8ZM530.2 283.8L532.2 284.8L533.8 284.8L534.8 283.8L534.2 281.8L532.2 281.8ZM547.2 266.8L542.8 265.2L540.2 266.2L536.8 271.8L533.8 274.8L533.2 275.8L533.8 278.2L534.8 278.8L536.2 277.8L537.2 277.8L541.8 273.8L543.8 272.8L546.8 269.8ZM555.8 256.2L552.2 255.8L547.8 259.8L547.8 261.2L549.2 262.2L553.8 261.2L555.8 258.8ZM582.8 232.2L581.8 231.2L579.2 231.8L576.8 233.8L576.2 233.2L574.8 233.8L574.2 234.8L575.8 236.8L577.8 235.8L580.2 235.8L582.2 234.8ZM619.8 190.2L613.2 190.8L610.8 192.2L609.8 194.2L610.8 197.8L608.2 199.2L607.2 199.2L605.8 200.8L605.2 203.2L603.8 205.2L602.2 204.8L600.2 205.2L597.8 207.8L595.8 210.8L594.8 211.2L593.2 213.8L593.2 215.2L594.2 217.2L596.8 217.2L597.8 216.8L601.8 212.2L604.8 210.2L604.8 205.8L606.8 204.8L609.2 204.8L610.8 203.8L611.8 199.2L613.2 197.8L615.8 197.2L618.2 195.2L619.8 192.8Z"/>
<path fill="#d60000" fill-rule="evenodd" d="M512.2 302.2L510.2 302.8L509.8 303.8L511.2 303.8ZM519.8 291.8L517.8 291.2L516.2 293.8L512.8 296.2L513.2 301.2L514.8 300.8L517.2 298.2L517.8 296.8L517.2 295.2L519.8 292.8ZM546.2 266.8L541.2 266.2L539.8 267.8L537.2 272.2L534.2 275.2L534.2 276.8L535.2 277.8L539.2 275.8L542.2 272.8L543.8 272.2L546.8 268.8ZM555.2 256.8L554.8 256.2L552.8 256.2L550.8 257.2L548.8 259.2L548.8 260.8L549.2 261.2L553.8 260.8L555.2 258.8ZM581.8 232.2L581.2 231.8L579.8 232.2L577.8 234.2L577.8 235.2L579.2 235.2L581.8 234.2ZM601.8 205.2L600.2 205.8L598.2 207.8L596.8 210.2L594.2 212.2L593.8 213.2L593.8 215.8L594.8 216.8L597.8 216.2L599.2 213.2L603.8 209.2L603.8 206.2ZM610.8 199.2L607.8 199.8L605.8 201.8L605.8 204.2L609.2 204.2L610.8 202.8ZM619.2 191.2L618.8 190.8L616.2 190.8L615.8 191.2L612.2 191.8L610.8 193.8L612.2 197.2L615.8 196.8L618.2 194.2Z"/>
<path fill="#9c0000" fill-rule="evenodd" d="M514.8 295.8L513.2 296.8L513.8 299.8L514.8 299.8L516.8 297.2ZM545.8 267.2L543.2 267.2L542.8 266.8L541.2 267.2L540.2 270.2L536.8 273.8L535.8 275.2L535.8 276.2L538.2 275.8L541.2 272.8L544.2 271.2L545.8 269.8ZM555.2 257.2L554.8 256.8L552.8 256.8L551.8 257.2L549.8 259.8L551.2 260.8L552.8 260.8L554.8 259.2ZM581.2 232.8L580.8 232.2L579.8 232.8L578.8 234.2L580.2 234.2ZM602.2 206.2L600.2 206.2L597.8 209.8L594.2 212.8L594.2 215.8L596.2 216.8L598.2 214.8L599.2 211.8L602.2 209.8L602.8 208.8L602.8 206.8ZM609.8 199.8L606.8 201.2L606.2 202.2L606.8 203.8L609.8 203.2L610.2 202.2ZM618.2 191.8L614.2 191.8L612.8 192.2L611.8 193.8L612.2 195.8L613.8 196.8L615.8 196.2L617.8 194.2Z"/></g>
<line x1="132.50" y1="686.2" x2="777.00" y2="31.2" stroke="#000" stroke-width="1.9"/>
<rect x="132.50" y="32.0" width="644.50" height="654.0" fill="none" stroke="#2a2a2a" stroke-width="1.35"/>
<line x1="132.50" y1="686.0" x2="132.50" y2="690.5" stroke="#222" stroke-width="1.2"/>
<text transform="translate(132.50,722.2) scale(1,1.055)" class="tb" text-anchor="middle">180</text>
<line x1="128.00" y1="686.00" x2="132.50" y2="686.00" stroke="#222" stroke-width="1.2"/>
<text transform="translate(123.50,700.10) scale(1,1.045)" class="tb" text-anchor="end">180</text>
<line x1="213.06" y1="686.0" x2="213.06" y2="690.5" stroke="#222" stroke-width="1.2"/>
<text transform="translate(213.06,722.2) scale(1,1.055)" class="tb" text-anchor="middle">200</text>
<line x1="128.00" y1="604.25" x2="132.50" y2="604.25" stroke="#222" stroke-width="1.2"/>
<text transform="translate(123.50,618.35) scale(1,1.045)" class="tb" text-anchor="end">200</text>
<line x1="293.62" y1="686.0" x2="293.62" y2="690.5" stroke="#222" stroke-width="1.2"/>
<text transform="translate(293.62,722.2) scale(1,1.055)" class="tb" text-anchor="middle">220</text>
<line x1="128.00" y1="522.50" x2="132.50" y2="522.50" stroke="#222" stroke-width="1.2"/>
<text transform="translate(123.50,536.60) scale(1,1.045)" class="tb" text-anchor="end">220</text>
<line x1="374.19" y1="686.0" x2="374.19" y2="690.5" stroke="#222" stroke-width="1.2"/>
<text transform="translate(374.19,722.2) scale(1,1.055)" class="tb" text-anchor="middle">240</text>
<line x1="128.00" y1="440.75" x2="132.50" y2="440.75" stroke="#222" stroke-width="1.2"/>
<text transform="translate(123.50,454.85) scale(1,1.045)" class="tb" text-anchor="end">240</text>
<line x1="454.75" y1="686.0" x2="454.75" y2="690.5" stroke="#222" stroke-width="1.2"/>
<text transform="translate(454.75,722.2) scale(1,1.055)" class="tb" text-anchor="middle">260</text>
<line x1="128.00" y1="359.00" x2="132.50" y2="359.00" stroke="#222" stroke-width="1.2"/>
<text transform="translate(123.50,373.10) scale(1,1.045)" class="tb" text-anchor="end">260</text>
<line x1="535.31" y1="686.0" x2="535.31" y2="690.5" stroke="#222" stroke-width="1.2"/>
<text transform="translate(535.31,722.2) scale(1,1.055)" class="tb" text-anchor="middle">280</text>
<line x1="128.00" y1="277.25" x2="132.50" y2="277.25" stroke="#222" stroke-width="1.2"/>
<text transform="translate(123.50,291.35) scale(1,1.045)" class="tb" text-anchor="end">280</text>
<line x1="615.88" y1="686.0" x2="615.88" y2="690.5" stroke="#222" stroke-width="1.2"/>
<text transform="translate(615.88,722.2) scale(1,1.055)" class="tb" text-anchor="middle">300</text>
<line x1="128.00" y1="195.50" x2="132.50" y2="195.50" stroke="#222" stroke-width="1.2"/>
<text transform="translate(123.50,209.60) scale(1,1.045)" class="tb" text-anchor="end">300</text>
<line x1="696.44" y1="686.0" x2="696.44" y2="690.5" stroke="#222" stroke-width="1.2"/>
<text transform="translate(696.44,722.2) scale(1,1.055)" class="tb" text-anchor="middle">320</text>
<line x1="128.00" y1="113.75" x2="132.50" y2="113.75" stroke="#222" stroke-width="1.2"/>
<text transform="translate(123.50,127.85) scale(1,1.045)" class="tb" text-anchor="end">320</text>
<text transform="translate(173.0,73.7) scale(1,1.03)" class="tr">RMSE<tspan dx="-3.5"> = 2.307K</tspan></text>
<text transform="translate(173.0,122.5) scale(1,1.03)" class="tr">MAE<tspan dx="-2"> = </tspan><tspan dx="-1">1.692K</tspan></text>
<text transform="translate(173.0,174.8) scale(1,1.03)" class="tr">R<tspan dx="0" dy="-22" font-size="27">2</tspan><tspan dx="0.5" dy="22"> = 0.96</tspan></text>
<text transform="translate(173.0,228.8) scale(1,1.03)" class="tr">N<tspan dx="-1.5"> = </tspan><tspan dx="1" textLength="96" lengthAdjust="spacingAndGlyphs">84771</tspan></text>
<text transform="translate(454.7,763) scale(0.988,1.04)" class="tb" text-anchor="middle">In-situ daily Ta (K)</text>
<text transform="translate(51.6,359) rotate(-90) scale(0.986,1.04)" x="0" y="0" class="tb" text-anchor="middle">Estimated daily Ta (K)</text>
<text x="103.0" y="779.5" class="tr" style="font-size:58px">(a)</text>
<rect x="817" y="32.0" width="33" height="654.0" fill="url(#jet)" stroke="#222" stroke-width="1"/>
<line x1="850" y1="686.00" x2="854.5" y2="686.00" stroke="#333" stroke-width="1.2"/>
<text transform="translate(859,694.90) scale(1,1.05)" class="tc">0.0</text>
<line x1="850" y1="555.20" x2="854.5" y2="555.20" stroke="#333" stroke-width="1.2"/>
<text transform="translate(859,564.10) scale(1,1.05)" class="tc">0.2</text>
<line x1="850" y1="424.40" x2="854.5" y2="424.40" stroke="#333" stroke-width="1.2"/>
<text transform="translate(859,433.30) scale(1,1.05)" class="tc">0.4</text>
<line x1="850" y1="293.60" x2="854.5" y2="293.60" stroke="#333" stroke-width="1.2"/>
<text transform="translate(859,302.50) scale(1,1.05)" class="tc">0.6</text>
<line x1="850" y1="162.80" x2="854.5" y2="162.80" stroke="#333" stroke-width="1.2"/>
<text transform="translate(859,171.70) scale(1,1.05)" class="tc">0.8</text>
<line x1="850" y1="32.00" x2="854.5" y2="32.00" stroke="#333" stroke-width="1.2"/>
<text transform="translate(859,40.90) scale(1,1.05)" class="tc">1.0</text>
<path fill="#0000c8" fill-rule="evenodd" d="M1250.8 510.2L1248.8 511.8L1248.8 514.8L1250.2 516.2L1252.8 516.2L1254.2 515.2L1254.8 512.8L1252.8 510.2ZM1267.2 503.2L1266.8 504.2L1266.8 506.8L1267.2 507.8L1269.2 508.8L1270.8 508.2L1272.2 510.2L1275.2 510.2L1276.8 508.8L1276.8 506.2L1275.8 504.8L1274.8 504.2L1273.2 504.2L1272.8 504.8L1271.2 502.8L1269.8 502.2ZM1300.2 484.8L1299.2 486.2L1299.2 488.8L1300.8 490.2L1303.8 490.2L1305.2 488.2L1305.2 486.2L1302.8 484.2ZM1306.2 469.2L1305.2 470.2L1305.2 473.2L1306.8 474.8L1309.8 474.8L1311.2 472.8L1310.8 470.2L1308.8 468.8ZM1306.8 461.8L1306.8 464.2L1307.2 465.2L1309.2 466.2L1311.2 465.8L1312.2 464.2L1313.2 463.8L1314.8 466.8L1315.8 467.2L1318.2 467.2L1319.2 466.8L1320.2 464.8L1319.8 462.8L1318.8 461.8L1316.8 461.2L1316.2 460.8L1316.2 459.2L1314.8 457.8L1312.2 457.8L1311.2 458.2L1310.2 459.8L1307.2 460.8ZM1309.8 449.8L1308.2 451.2L1308.2 454.2L1310.2 455.8L1311.8 455.8L1313.8 454.2L1314.2 451.8L1312.8 449.8ZM1628.2 176.2L1615.8 164.2L1611.2 164.8L1609.8 163.8L1607.8 163.8L1605.8 165.2L1605.2 164.8L1603.2 165.2L1601.8 167.2L1599.2 165.8L1598.2 165.8L1595.8 167.8L1594.2 168.2L1593.2 169.8L1593.2 170.8L1592.2 171.8L1589.8 170.2L1587.8 170.8L1585.2 173.8L1584.2 176.2L1582.8 176.2L1582.2 175.8L1581.8 172.8L1579.2 171.8L1576.8 173.2L1574.2 170.2L1572.2 170.2L1570.8 171.2L1569.8 174.8L1566.8 174.2L1564.8 176.2L1564.2 175.2L1563.2 174.8L1560.8 174.8L1559.2 176.2L1556.8 177.2L1555.8 180.8L1553.2 180.2L1551.2 181.8L1551.2 184.8L1549.2 187.8L1548.8 187.2L1546.8 187.2L1545.8 187.8L1544.8 189.2L1543.8 188.8L1541.2 190.2L1538.8 190.8L1537.8 192.2L1537.8 194.2L1538.8 195.8L1538.2 196.2L1535.8 196.2L1534.2 197.8L1534.2 200.8L1532.8 202.8L1532.8 204.2L1533.2 204.8L1532.2 205.8L1530.2 205.8L1528.2 206.8L1527.8 207.8L1527.8 210.2L1527.2 210.8L1524.8 210.8L1524.2 211.2L1521.8 210.8L1520.8 211.2L1518.8 213.8L1517.8 213.8L1516.2 215.2L1515.8 216.8L1514.8 217.2L1511.2 217.2L1510.2 217.8L1509.8 218.8L1509.2 217.8L1507.2 216.2L1504.8 216.8L1503.8 218.8L1502.8 219.2L1500.2 222.2L1498.2 222.2L1496.8 223.8L1497.2 227.8L1496.2 229.2L1496.2 231.2L1497.2 232.2L1493.2 234.8L1493.2 236.8L1491.8 237.8L1490.8 239.2L1490.8 240.8L1491.8 242.2L1491.2 242.8L1491.2 246.8L1489.8 247.2L1488.2 248.8L1488.2 250.8L1486.2 253.2L1485.2 253.2L1483.8 254.8L1483.8 257.8L1484.2 258.2L1482.2 259.2L1481.2 260.8L1480.2 260.2L1478.2 260.8L1474.8 264.8L1474.8 267.2L1476.2 268.8L1473.8 271.8L1473.8 273.2L1474.8 274.8L1474.2 275.2L1472.2 275.2L1470.2 278.2L1465.8 279.8L1464.2 281.8L1461.8 281.8L1460.2 283.2L1460.2 285.2L1459.8 285.8L1458.2 285.8L1454.2 290.2L1454.2 292.8L1455.2 293.8L1454.8 294.2L1452.8 294.2L1450.8 296.8L1449.8 296.8L1448.2 298.2L1448.2 299.8L1446.8 301.2L1446.2 303.2L1445.8 303.8L1443.8 303.8L1442.8 304.8L1441.8 307.2L1438.8 307.8L1437.8 308.8L1437.8 309.8L1437.2 310.2L1435.8 310.2L1433.8 312.8L1433.2 312.2L1430.8 312.2L1429.8 313.2L1426.8 313.8L1425.8 315.2L1422.8 315.8L1421.8 317.2L1422.2 320.2L1419.2 322.8L1419.2 324.2L1416.8 326.2L1414.2 326.2L1412.2 328.8L1410.2 328.8L1408.8 331.2L1407.2 331.8L1405.8 333.2L1405.8 335.2L1403.2 337.2L1403.2 339.8L1401.8 340.8L1401.2 343.2L1398.8 344.2L1396.8 347.2L1395.2 347.2L1393.2 348.8L1393.2 350.8L1391.2 352.8L1391.2 353.8L1390.2 354.2L1388.2 356.8L1388.8 358.2L1386.2 360.2L1386.2 363.2L1386.8 363.8L1386.2 364.8L1386.2 367.2L1385.8 367.8L1385.2 367.2L1383.8 367.2L1381.2 369.2L1379.2 369.2L1377.8 370.8L1377.2 372.2L1374.2 372.8L1373.2 374.8L1372.2 375.2L1370.8 377.2L1370.8 378.8L1371.2 379.2L1366.2 381.2L1365.2 382.2L1364.8 384.2L1364.2 384.8L1362.8 384.8L1361.8 385.8L1361.2 388.8L1359.8 390.2L1359.8 392.8L1359.2 393.2L1357.2 393.2L1354.8 395.2L1353.2 395.8L1352.8 396.8L1352.8 399.2L1352.2 399.8L1350.2 399.8L1348.8 400.8L1348.2 401.8L1348.8 404.2L1347.8 405.8L1348.2 408.2L1345.8 409.8L1345.2 411.2L1345.8 413.2L1343.8 415.8L1342.2 415.8L1340.2 418.2L1340.8 419.8L1337.8 421.2L1337.2 422.2L1337.8 425.2L1336.2 427.2L1336.2 429.2L1335.2 429.8L1333.8 431.8L1334.2 433.2L1331.8 434.8L1331.8 435.2L1329.2 437.2L1329.2 439.8L1330.8 441.8L1329.2 442.2L1327.8 443.8L1327.8 446.2L1328.2 447.2L1326.8 448.8L1326.8 451.2L1323.8 454.8L1321.8 454.8L1319.8 457.2L1320.2 459.2L1321.8 460.8L1324.2 460.8L1326.8 457.8L1328.8 457.8L1330.8 455.2L1331.8 455.8L1333.2 455.2L1334.8 453.8L1337.2 453.2L1338.8 450.2L1340.2 451.2L1341.8 451.2L1343.8 449.8L1344.8 447.8L1346.8 447.2L1347.8 445.8L1350.8 445.8L1351.8 444.8L1353.8 440.8L1354.2 441.2L1356.8 441.2L1358.2 439.8L1358.8 438.2L1360.8 437.8L1361.8 434.8L1362.2 435.8L1363.2 436.2L1365.8 436.2L1367.8 434.2L1368.8 434.2L1370.2 432.8L1370.8 431.2L1372.8 430.8L1374.2 428.2L1377.2 428.8L1378.8 427.2L1378.8 425.2L1379.8 424.8L1380.8 423.2L1382.2 423.8L1383.8 423.2L1385.2 421.8L1384.8 418.8L1387.2 417.2L1387.8 415.2L1388.2 414.8L1390.2 414.8L1392.2 412.8L1393.8 412.8L1395.8 410.8L1396.8 410.8L1398.2 409.8L1399.2 406.2L1401.8 407.8L1403.8 406.8L1405.2 407.8L1407.2 407.8L1409.2 405.2L1410.2 404.8L1410.8 405.2L1412.8 404.8L1413.8 403.8L1413.8 402.8L1414.8 402.2L1416.8 399.8L1418.2 400.2L1420.2 399.2L1421.2 395.8L1424.2 395.8L1426.2 392.8L1427.8 391.8L1430.2 391.8L1432.2 388.8L1434.2 389.8L1435.8 389.2L1436.8 388.2L1436.8 386.2L1438.2 385.2L1438.8 384.2L1438.8 381.8L1438.2 381.2L1438.8 380.8L1441.8 380.8L1443.2 379.2L1444.8 379.2L1446.2 377.8L1447.2 378.2L1449.8 378.2L1451.2 376.8L1451.2 374.2L1451.8 373.8L1453.8 373.2L1454.8 371.8L1456.2 372.2L1458.2 371.8L1459.2 370.8L1459.2 369.2L1461.8 367.2L1461.8 365.8L1463.2 364.8L1464.2 363.2L1467.2 362.2L1467.8 361.2L1467.2 357.8L1467.8 357.2L1469.2 357.8L1471.8 356.8L1472.8 357.8L1475.8 357.8L1476.8 357.2L1477.2 354.2L1478.8 353.2L1480.2 351.2L1480.2 349.8L1479.8 349.2L1482.2 347.8L1482.8 345.8L1485.2 343.8L1485.2 342.8L1488.8 341.2L1491.2 341.2L1493.2 338.8L1492.8 337.8L1495.2 336.2L1495.8 334.2L1496.8 333.8L1497.8 332.2L1497.8 330.8L1496.8 329.2L1497.2 328.2L1499.8 328.2L1500.8 327.2L1502.8 327.2L1504.2 325.8L1504.2 323.8L1503.8 323.2L1504.2 321.8L1506.2 321.8L1506.8 321.2L1508.2 321.8L1510.2 320.2L1511.2 318.2L1512.2 319.2L1514.8 319.2L1516.2 317.8L1516.2 315.8L1518.8 314.2L1519.2 311.8L1521.2 309.8L1521.2 307.2L1521.8 306.8L1523.2 307.2L1524.2 306.8L1525.8 304.8L1527.2 305.2L1529.2 303.8L1531.8 303.2L1532.8 301.2L1532.2 299.8L1532.8 299.2L1535.8 299.2L1537.2 297.2L1537.2 295.2L1536.8 294.8L1538.2 292.2L1537.8 289.8L1538.8 289.2L1540.2 287.2L1542.2 286.8L1543.2 285.2L1544.8 284.8L1546.2 281.2L1548.8 281.2L1550.2 279.2L1550.2 277.8L1549.8 277.2L1554.2 274.2L1554.8 273.2L1554.8 270.8L1556.2 269.8L1557.2 269.8L1558.8 267.2L1560.2 266.8L1561.8 265.2L1561.8 263.2L1562.2 262.8L1563.8 262.8L1565.2 261.2L1565.8 259.2L1569.2 255.2L1569.2 253.2L1571.2 251.8L1571.8 249.2L1573.8 247.2L1573.8 246.2L1574.2 245.8L1576.2 245.8L1578.8 242.8L1579.8 243.2L1582.2 243.2L1583.8 241.2L1586.2 240.8L1587.8 239.2L1587.8 238.2L1590.2 236.2L1590.2 234.2L1591.8 233.8L1593.2 232.2L1593.8 230.8L1595.8 229.2L1595.8 227.2L1596.2 226.8L1598.8 226.8L1599.8 226.2L1600.8 224.2L1600.2 222.8L1601.2 221.8L1604.2 221.8L1605.2 220.8L1605.8 218.2L1604.8 216.8L1604.8 215.2L1607.2 214.2L1607.8 213.2L1607.8 210.8L1606.8 209.2L1608.8 207.8L1608.8 205.8L1610.2 204.8L1611.2 203.2L1611.2 201.2L1610.8 200.8L1613.2 198.8L1613.8 197.2L1613.2 195.8L1614.8 193.8L1614.2 191.8L1615.8 190.8L1616.2 187.8L1616.8 187.2L1617.8 187.8L1618.2 187.2L1621.2 187.2L1622.2 186.8L1623.2 185.2L1623.2 182.8L1624.8 181.8L1625.2 179.8ZM1337.8 449.8L1338.2 449.2L1338.8 449.8L1338.2 450.2ZM1420.2 395.8L1420.8 395.2L1421.2 395.8L1420.8 396.2ZM1424.2 321.8L1425.2 321.2L1425.8 322.2L1425.2 322.8ZM1554.2 270.2L1554.8 269.8L1555.2 270.2L1554.8 270.8Z"/>
<g filter="url(#bl)"><path fill="#0000f6" fill-rule="evenodd" d="M1622.2 170.2L1615.8 164.2L1606.8 165.8L1602.2 167.8L1599.8 168.2L1598.2 169.2L1595.8 169.8L1591.8 171.8L1584.8 176.2L1583.2 176.2L1579.8 179.8L1574.2 182.2L1543.8 215.8L1526.2 230.8L1523.2 232.8L1501.2 254.2L1499.2 257.2L1483.8 275.2L1478.2 283.2L1472.8 289.8L1469.2 294.8L1468.8 296.2L1460.8 307.2L1442.8 325.8L1429.8 343.2L1418.2 349.2L1409.2 355.8L1387.2 386.2L1384.2 391.8L1382.8 398.2L1388.2 392.8L1388.8 393.2L1389.2 397.8L1390.8 401.8L1402.2 396.8L1412.8 389.8L1431.2 376.2L1440.2 365.2L1445.2 357.8L1447.8 357.2L1450.8 354.8L1455.2 352.8L1467.2 345.2L1484.8 331.2L1493.8 321.8L1494.8 322.2L1496.8 321.2L1500.8 317.8L1508.2 313.8L1509.2 312.8L1510.8 307.2L1512.2 305.2L1511.8 303.2L1530.8 284.2L1548.8 262.8L1573.2 239.8L1584.2 231.2L1587.8 227.8L1592.8 220.8L1596.2 214.2L1600.2 209.2L1600.2 206.2L1602.8 201.2L1602.8 200.2L1603.8 199.2L1607.2 191.8L1610.8 187.8L1611.8 185.8L1611.2 184.8L1621.8 171.8Z"/>
<path fill="#0005ff" fill-rule="evenodd" d="M1617.2 165.2L1614.2 164.2L1613.8 164.8L1606.8 165.8L1602.2 167.8L1599.8 168.2L1598.2 169.2L1595.8 169.8L1585.8 175.2L1583.2 177.8L1583.2 180.2L1580.8 181.8L1566.8 196.2L1566.2 197.2L1566.8 198.8L1562.8 202.8L1561.8 204.2L1562.2 204.8L1526.8 240.2L1526.2 239.8L1524.2 239.8L1522.8 240.8L1496.8 266.8L1487.8 276.2L1486.8 277.8L1486.8 278.8L1470.8 295.8L1470.2 297.2L1471.8 300.2L1464.2 308.2L1463.8 309.2L1464.2 310.8L1451.2 323.8L1448.2 327.8L1448.8 328.2L1435.2 342.8L1434.2 344.8L1435.8 348.2L1428.8 350.2L1422.2 353.2L1413.8 358.8L1402.8 373.2L1394.2 386.8L1400.2 380.8L1400.8 381.2L1399.8 384.8L1399.8 389.8L1400.2 390.2L1399.8 392.8L1415.2 382.8L1416.8 381.2L1428.8 373.2L1434.2 365.2L1440.8 353.2L1441.8 353.2L1447.2 355.8L1449.2 354.8L1455.8 349.2L1462.8 342.2L1465.8 343.2L1468.8 341.2L1482.2 327.8L1483.2 327.8L1491.2 319.8L1494.2 320.8L1496.2 320.8L1499.8 318.2L1509.8 308.2L1511.2 305.8L1511.2 304.8L1508.8 300.8L1544.8 264.2L1546.2 262.2L1547.2 259.2L1550.2 258.8L1569.8 239.8L1572.8 239.2L1586.2 226.2L1589.2 222.8L1589.2 221.2L1596.8 213.2L1599.2 209.2L1597.8 204.8L1601.2 200.8L1601.2 198.8L1600.8 198.2L1609.8 188.2L1610.8 185.2L1609.2 182.8L1613.8 178.2L1615.2 176.2L1615.2 174.8L1620.2 168.8ZM1582.8 180.8L1583.2 180.2L1583.8 180.8L1583.2 181.2Z"/>
<path fill="#002eff" fill-rule="evenodd" d="M1616.8 166.8L1612.2 165.2L1606.8 165.8L1602.2 167.8L1599.8 168.2L1598.2 169.2L1595.8 169.8L1587.2 174.8L1586.8 177.8L1585.8 179.2L1582.2 182.8L1580.2 183.2L1576.2 186.8L1570.8 193.2L1570.2 195.2L1565.8 200.2L1563.2 204.2L1527.2 240.8L1524.2 243.2L1522.2 243.8L1518.2 246.2L1513.2 250.8L1494.8 269.8L1490.8 275.2L1476.8 289.8L1474.2 293.2L1474.2 294.8L1473.8 295.2L1474.2 297.8L1468.2 304.8L1466.8 308.2L1454.8 321.2L1452.2 325.2L1439.8 339.2L1440.2 344.2L1438.8 346.2L1422.2 363.2L1421.2 365.2L1423.2 365.2L1425.8 366.2L1426.8 365.8L1444.8 348.8L1452.8 350.2L1465.8 338.8L1466.8 338.2L1469.2 338.2L1471.8 337.2L1492.8 317.8L1493.8 317.2L1497.2 317.8L1500.8 316.2L1508.2 309.2L1509.2 307.8L1509.2 304.8L1507.8 301.8L1508.2 300.8L1532.2 276.8L1540.2 267.8L1543.8 262.2L1550.2 255.8L1555.2 252.8L1572.2 236.8L1575.2 235.8L1581.8 230.2L1585.2 226.8L1589.2 220.2L1593.8 215.8L1596.8 209.8L1596.2 205.8L1599.8 201.2L1599.8 198.8L1607.8 189.2L1608.8 187.2L1608.8 184.8L1608.2 184.2L1608.8 182.8L1613.2 177.8L1613.2 176.2L1617.8 170.2Z"/>
<path fill="#0057ff" fill-rule="evenodd" d="M1615.2 168.2L1611.8 167.2L1609.2 165.8L1606.8 165.8L1602.2 167.8L1599.8 168.2L1598.2 169.2L1595.8 169.8L1590.2 172.8L1589.2 175.8L1582.2 183.2L1577.8 185.8L1574.8 189.2L1572.8 193.2L1566.2 200.2L1565.8 201.8L1558.2 210.2L1555.8 212.2L1526.8 241.8L1523.8 243.8L1520.2 247.2L1516.8 248.8L1504.8 259.8L1490.8 275.8L1478.2 288.8L1476.8 292.8L1476.8 294.8L1475.8 296.8L1470.8 302.2L1469.2 305.8L1466.2 309.8L1459.2 316.8L1457.2 320.8L1450.8 327.2L1446.8 332.2L1444.2 338.2L1444.2 340.2L1438.2 347.8L1430.2 356.2L1430.2 357.2L1431.2 358.8L1432.8 359.2L1448.2 344.2L1450.2 343.2L1451.2 343.2L1454.2 344.8L1458.8 344.2L1467.8 336.2L1470.2 334.8L1473.2 334.2L1477.8 331.2L1484.8 324.8L1490.2 318.8L1493.8 316.8L1495.2 315.2L1497.8 315.2L1502.8 313.8L1507.2 309.8L1507.8 308.8L1507.8 304.8L1506.8 302.8L1507.8 300.8L1516.8 291.2L1531.2 277.2L1535.2 272.8L1538.8 267.2L1543.2 262.2L1555.8 250.2L1565.2 242.8L1577.2 231.8L1580.2 230.8L1584.8 226.8L1587.8 221.2L1592.8 215.8L1593.8 213.2L1593.8 208.8L1598.2 202.8L1598.8 199.8L1605.2 191.8L1607.2 187.8L1607.2 184.8L1610.8 180.2L1611.2 178.2L1614.8 173.8L1615.8 171.8Z"/>
<path fill="#0080ff" fill-rule="evenodd" d="M1612.8 168.8L1611.8 168.8L1608.2 166.8L1606.8 166.8L1606.2 166.2L1603.8 167.8L1601.2 167.8L1591.8 171.8L1591.2 173.8L1585.8 180.8L1583.2 183.2L1579.2 185.8L1573.2 193.2L1569.2 197.2L1567.2 201.2L1563.8 204.8L1560.8 208.8L1559.2 211.8L1552.2 215.8L1547.8 220.8L1543.8 226.2L1540.2 228.8L1538.8 231.2L1533.8 235.2L1530.8 240.2L1529.2 241.8L1525.8 242.8L1517.2 250.2L1515.8 250.8L1510.8 254.8L1494.8 271.2L1488.2 279.2L1481.2 285.8L1478.2 294.2L1471.8 301.8L1468.8 307.8L1468.8 309.2L1465.2 311.8L1459.8 317.8L1458.2 320.8L1454.8 323.8L1449.8 329.2L1449.2 333.2L1447.2 337.8L1439.2 347.2L1440.2 348.8L1442.8 348.8L1444.8 346.8L1444.8 345.8L1447.2 343.2L1451.8 341.2L1455.8 341.8L1456.2 342.2L1460.8 342.2L1467.2 335.8L1472.2 332.2L1473.2 332.2L1477.2 330.2L1479.2 328.8L1482.2 325.2L1485.8 323.2L1487.2 321.2L1487.2 319.8L1488.2 318.2L1493.8 316.2L1497.2 313.2L1501.8 312.8L1505.8 310.2L1506.2 309.2L1506.2 306.8L1506.8 306.2L1506.2 302.8L1507.8 300.2L1510.8 297.2L1516.8 289.8L1520.2 287.8L1531.8 275.8L1537.2 268.2L1543.2 262.2L1545.2 259.2L1568.2 238.8L1570.8 237.2L1577.2 230.8L1582.2 228.8L1584.2 226.8L1584.2 225.8L1586.8 222.2L1587.8 219.8L1592.2 214.8L1592.2 212.2L1591.8 211.8L1592.2 209.2L1596.8 204.2L1598.2 199.8L1604.2 192.2L1605.2 190.2L1605.8 186.2L1609.2 181.8L1610.2 178.2L1613.8 174.2L1613.8 169.8Z"/>
<path fill="#00a8ff" fill-rule="evenodd" d="M1612.2 170.2L1610.2 169.8L1607.8 167.8L1605.2 167.2L1603.8 168.2L1599.8 169.2L1598.8 171.8L1597.2 173.2L1595.8 172.8L1594.8 171.2L1593.2 171.8L1585.8 182.8L1580.8 185.8L1578.8 188.8L1576.2 190.2L1574.2 192.2L1572.8 194.8L1570.8 196.8L1569.2 201.2L1564.8 205.8L1563.2 209.2L1559.2 213.2L1554.8 215.2L1550.8 218.8L1546.2 225.8L1537.8 233.8L1536.2 234.2L1534.8 235.8L1532.2 239.8L1531.8 241.8L1530.8 242.8L1526.8 243.2L1523.2 245.2L1516.8 251.2L1511.8 254.8L1506.2 260.2L1504.8 262.8L1500.8 265.8L1494.8 271.8L1489.8 277.8L1488.8 279.8L1482.2 286.8L1481.2 290.8L1476.8 297.2L1472.8 301.2L1470.2 306.2L1469.8 311.2L1468.2 312.8L1465.8 313.2L1460.8 317.8L1460.2 318.8L1460.2 322.2L1457.2 325.2L1454.2 325.2L1452.2 327.2L1451.2 330.2L1451.8 330.8L1451.8 333.2L1449.2 335.8L1447.2 339.2L1448.2 340.8L1448.8 340.2L1452.2 340.2L1454.2 339.2L1454.8 339.8L1460.8 339.8L1461.8 338.2L1462.2 335.2L1464.2 332.8L1464.2 330.8L1466.2 328.8L1469.2 328.8L1469.8 329.2L1469.2 332.8L1471.2 332.2L1475.8 328.8L1478.2 327.8L1481.8 324.2L1484.2 323.2L1485.8 321.8L1486.2 319.8L1487.8 317.8L1490.8 316.2L1493.2 315.8L1498.8 311.8L1502.2 311.2L1504.8 309.2L1505.8 306.2L1505.8 304.8L1505.2 304.2L1505.8 302.8L1510.2 296.8L1510.8 294.8L1515.8 289.2L1519.2 287.8L1524.2 283.2L1525.2 281.2L1535.2 270.8L1537.2 267.2L1542.8 262.2L1544.2 259.8L1564.2 241.2L1570.2 236.8L1576.8 229.8L1580.8 228.2L1583.2 226.2L1583.8 224.8L1585.8 222.2L1586.2 219.8L1591.2 215.2L1591.2 212.2L1590.8 211.2L1592.8 206.8L1596.2 203.2L1599.2 197.8L1603.8 192.2L1604.2 188.2L1605.2 186.2L1608.2 182.8L1608.8 181.2L1608.8 179.2L1607.8 178.8L1607.8 177.2L1608.8 176.2L1610.2 176.2L1612.2 174.8Z"/>
<path fill="#00d1ff" fill-rule="evenodd" d="M1607.8 168.8L1604.2 168.2L1602.2 169.2L1600.2 171.2L1599.2 173.2L1596.8 175.2L1595.8 175.2L1593.8 173.2L1592.2 175.2L1594.8 175.2L1595.8 176.2L1595.2 177.8L1593.2 179.2L1591.2 177.8L1590.2 178.2L1584.8 184.8L1581.8 186.2L1580.2 188.8L1578.2 190.8L1576.8 191.2L1571.2 197.2L1569.8 202.2L1565.8 206.2L1564.8 209.2L1560.8 213.2L1552.2 218.2L1551.2 220.2L1551.2 221.8L1552.2 223.2L1551.2 224.2L1550.2 224.2L1545.8 229.2L1542.8 230.2L1538.8 234.2L1537.2 234.8L1535.2 236.8L1532.2 242.8L1531.2 243.8L1528.8 243.8L1525.8 244.8L1523.2 247.8L1521.8 248.2L1518.2 251.2L1513.2 254.2L1509.2 257.8L1503.8 265.2L1501.2 266.2L1495.2 271.8L1487.8 282.2L1483.2 287.2L1483.2 288.2L1481.8 291.2L1479.8 293.2L1477.8 297.2L1472.8 302.2L1470.8 308.2L1470.8 312.2L1469.2 313.8L1466.8 314.2L1464.8 316.2L1463.8 318.2L1463.8 321.2L1459.8 325.8L1459.2 328.8L1456.8 331.2L1455.2 331.8L1452.8 335.2L1450.2 336.8L1450.2 338.2L1453.8 338.2L1455.8 336.8L1459.2 336.8L1460.8 334.8L1462.8 329.8L1464.2 328.2L1466.8 327.2L1468.2 327.2L1471.2 324.2L1473.8 326.2L1474.2 327.8L1475.2 327.8L1478.2 326.2L1480.8 323.8L1484.2 322.2L1485.8 318.8L1487.8 316.8L1493.8 314.8L1498.2 311.2L1502.8 309.8L1504.2 308.2L1505.8 301.2L1509.2 297.2L1510.8 293.2L1512.2 292.2L1515.2 288.8L1519.8 286.8L1524.2 282.2L1524.8 280.8L1528.2 277.8L1534.2 271.2L1536.8 266.8L1542.2 262.2L1544.2 258.8L1546.8 256.8L1551.2 251.8L1553.8 250.2L1559.8 245.2L1565.8 239.2L1571.2 235.2L1576.2 228.8L1579.8 227.8L1583.8 223.8L1584.8 222.2L1584.8 221.2L1584.2 220.8L1582.8 220.8L1580.8 219.2L1582.2 217.8L1586.2 217.8L1586.8 217.2L1588.2 217.2L1590.2 215.8L1590.8 214.2L1590.2 211.8L1592.8 205.2L1595.8 202.8L1597.8 199.2L1601.2 195.2L1603.2 191.8L1603.2 188.8L1607.8 182.8L1607.8 180.8L1606.2 178.8L1606.2 177.2L1608.2 175.2L1610.8 173.8L1610.8 171.8Z"/>
<path fill="#15ffe2" fill-rule="evenodd" d="M1460.2 331.8L1459.2 331.8L1458.8 332.8L1459.2 333.2ZM1607.2 169.2L1605.8 169.2L1605.2 168.8L1604.8 169.2L1603.2 169.2L1594.2 179.8L1590.2 179.8L1584.8 185.8L1581.2 188.2L1580.8 190.2L1579.2 191.8L1576.8 192.2L1572.8 196.2L1571.8 197.8L1570.8 201.8L1566.8 206.2L1565.8 209.2L1556.8 217.2L1553.2 218.8L1552.8 220.2L1553.8 221.2L1553.8 222.8L1550.8 225.2L1546.2 230.2L1542.2 231.8L1539.2 234.8L1536.8 236.2L1533.8 240.8L1532.8 243.2L1531.2 244.8L1526.8 245.2L1523.8 248.8L1521.2 250.2L1520.2 253.2L1518.8 254.8L1516.8 254.8L1515.8 253.8L1514.8 253.8L1510.8 256.8L1506.8 262.8L1506.2 264.2L1506.8 266.8L1505.8 268.2L1503.8 268.2L1502.2 267.2L1498.8 269.2L1494.2 273.8L1491.2 277.8L1490.2 280.2L1484.2 287.8L1483.2 290.2L1479.8 294.2L1477.8 298.8L1473.2 302.8L1473.2 304.8L1471.8 307.8L1471.8 311.8L1473.2 314.8L1472.2 315.8L1467.2 315.8L1466.2 316.8L1465.8 320.2L1461.2 327.8L1463.2 326.8L1466.8 326.8L1467.8 326.2L1470.2 322.8L1472.2 322.8L1474.2 323.8L1475.2 325.2L1476.8 325.8L1479.8 323.2L1483.2 321.8L1485.2 318.2L1487.2 316.2L1489.2 315.2L1490.8 315.2L1494.8 313.2L1496.8 310.8L1496.8 309.2L1496.2 308.8L1496.8 307.8L1498.8 309.8L1500.2 309.8L1501.8 308.8L1502.8 308.8L1503.8 307.8L1504.8 304.2L1504.8 301.2L1504.2 300.2L1506.8 299.2L1508.8 297.2L1509.8 293.2L1511.2 292.2L1514.8 288.2L1518.8 286.8L1523.2 282.8L1524.2 280.2L1533.2 271.8L1534.8 269.8L1536.8 264.8L1539.8 263.8L1550.8 251.2L1552.8 250.2L1560.2 244.2L1566.2 238.2L1569.2 236.2L1572.8 232.8L1574.2 229.8L1576.8 227.2L1578.2 226.8L1582.8 223.2L1582.8 222.2L1579.2 219.8L1579.8 218.2L1582.8 216.8L1588.2 216.2L1589.8 214.8L1590.2 209.8L1591.8 205.8L1593.2 203.8L1595.8 201.8L1597.2 199.2L1602.2 193.2L1602.8 188.8L1606.8 183.8L1606.8 180.8L1605.8 179.8L1605.8 176.8L1608.2 174.8L1609.8 172.8ZM1476.8 314.8L1478.2 314.8L1479.2 315.8L1479.2 318.2L1478.2 319.8L1476.8 319.8L1475.8 318.2L1475.8 315.8Z"/>
<path fill="#3effb9" fill-rule="evenodd" d="M1466.8 322.8L1465.8 323.8L1466.2 325.2L1467.2 324.8L1467.2 323.2ZM1474.2 318.2L1472.8 317.8L1470.2 319.2L1470.8 321.2L1473.8 321.2L1474.8 319.8ZM1607.2 170.2L1606.2 169.8L1603.2 170.2L1600.2 174.2L1596.8 177.8L1595.2 180.2L1591.8 180.8L1589.2 181.8L1587.8 184.2L1582.2 189.8L1581.8 191.2L1579.8 193.8L1578.2 194.8L1574.8 195.8L1572.8 197.8L1571.2 202.2L1568.2 205.8L1566.8 209.2L1564.8 211.8L1561.8 213.8L1559.2 216.8L1555.8 219.8L1554.2 223.8L1552.8 225.2L1551.2 225.8L1545.8 231.8L1543.2 232.2L1541.8 233.2L1536.2 238.8L1533.2 243.2L1532.8 246.8L1530.8 248.8L1529.8 248.2L1529.2 246.8L1527.8 246.8L1525.2 249.2L1523.8 249.8L1522.2 251.2L1521.8 253.8L1517.8 257.2L1515.8 257.2L1513.8 256.2L1512.2 256.8L1510.8 258.2L1508.2 262.8L1508.2 266.8L1507.8 268.2L1505.8 269.8L1502.8 269.8L1497.8 271.2L1494.2 275.2L1492.2 278.2L1491.8 280.8L1488.8 283.2L1486.2 288.2L1481.2 293.2L1479.2 296.8L1478.8 299.8L1476.8 301.2L1476.8 302.2L1478.2 304.2L1478.2 305.8L1476.8 307.2L1473.2 307.8L1472.8 308.8L1472.8 310.2L1475.2 312.8L1476.2 313.2L1478.8 313.2L1480.2 314.2L1480.2 320.8L1482.2 320.8L1486.2 315.8L1491.8 313.2L1492.8 313.2L1494.2 311.8L1493.8 308.8L1495.2 306.8L1496.2 306.2L1498.8 306.2L1500.2 307.8L1502.2 307.8L1503.8 305.2L1503.8 302.8L1501.8 300.2L1501.8 298.2L1503.2 296.8L1505.2 297.8L1507.2 297.8L1508.2 295.8L1508.8 292.8L1511.2 291.2L1515.2 287.2L1519.2 285.8L1522.2 282.8L1523.2 279.8L1524.8 278.2L1527.8 276.8L1532.8 271.2L1535.2 267.2L1535.2 263.8L1536.2 262.8L1540.2 262.8L1542.2 260.2L1542.2 258.2L1546.2 254.8L1547.2 252.2L1548.8 250.8L1551.2 250.2L1553.8 248.8L1572.2 232.2L1575.8 226.2L1579.8 223.2L1577.8 220.8L1577.8 219.8L1580.8 216.8L1583.8 215.8L1586.2 215.8L1588.8 214.2L1590.8 206.8L1591.8 205.8L1592.8 202.8L1594.8 201.2L1601.2 194.2L1601.8 189.8L1605.8 183.2L1604.8 180.2L1604.8 177.2L1608.2 173.2L1608.2 171.8ZM1595.2 184.8L1596.8 184.2L1597.8 184.8L1599.2 186.8L1598.2 187.8L1596.8 187.8L1595.2 186.2Z"/>
<path fill="#67ff90" fill-rule="evenodd" d="M1606.8 170.8L1604.2 170.8L1602.8 171.8L1600.8 174.8L1597.8 177.8L1595.2 181.8L1592.2 181.2L1590.2 182.2L1584.2 189.2L1581.2 194.8L1579.2 196.8L1575.2 196.8L1573.2 198.2L1572.2 201.8L1565.2 212.2L1562.8 213.8L1560.2 216.2L1559.8 217.8L1556.2 220.8L1554.8 224.2L1553.2 225.8L1551.8 226.2L1546.2 232.2L1542.8 233.2L1534.8 241.8L1533.2 247.2L1530.8 249.8L1528.8 250.2L1527.8 249.2L1526.8 249.2L1524.8 250.2L1523.2 251.8L1522.8 254.8L1518.2 258.2L1516.8 258.8L1512.8 258.2L1510.8 260.8L1509.2 267.8L1507.2 269.8L1504.2 270.8L1501.8 273.2L1500.2 273.2L1494.8 278.2L1495.2 281.8L1493.8 283.2L1491.2 282.8L1489.2 284.2L1487.8 288.2L1481.2 294.2L1480.2 296.2L1480.2 299.2L1478.8 301.2L1479.2 306.2L1478.2 307.8L1475.2 309.2L1475.2 310.8L1476.8 312.2L1479.8 312.2L1481.2 313.8L1481.2 318.2L1481.8 318.8L1482.8 318.8L1486.2 314.8L1491.8 312.2L1492.8 310.8L1492.8 308.8L1494.8 306.2L1497.8 304.8L1499.8 304.8L1501.2 306.2L1502.2 306.2L1502.2 304.8L1502.8 304.2L1500.8 301.8L1500.8 298.2L1502.8 295.8L1506.8 296.2L1507.2 293.2L1508.8 291.2L1510.8 290.8L1515.2 286.2L1516.8 286.2L1518.8 285.2L1521.2 282.2L1522.2 279.8L1524.2 277.8L1526.8 276.8L1533.8 268.8L1534.2 267.2L1534.2 262.2L1535.8 260.8L1538.2 261.8L1540.2 261.8L1541.2 260.2L1540.8 257.2L1541.8 256.2L1544.2 255.2L1545.2 254.2L1546.2 251.8L1547.8 250.2L1552.2 248.8L1554.2 246.8L1557.8 244.8L1571.8 231.8L1574.8 226.2L1575.2 222.2L1576.2 220.8L1581.8 215.8L1586.8 214.8L1588.2 213.8L1589.2 211.8L1589.8 207.8L1591.2 205.8L1591.8 202.2L1593.8 200.2L1595.8 199.8L1599.8 195.8L1600.8 193.8L1601.2 188.8L1600.8 188.2L1598.8 189.2L1597.2 189.2L1593.8 186.2L1593.8 185.2L1595.2 183.2L1597.2 183.2L1601.2 186.2L1602.8 185.8L1603.8 183.2L1603.8 178.2L1604.2 176.8L1607.2 173.2L1607.2 171.2Z"/>
<path fill="#90ff67" fill-rule="evenodd" d="M1592.8 182.2L1591.2 182.2L1588.2 185.2L1586.8 188.2L1583.2 192.8L1582.2 195.2L1579.8 197.8L1575.2 197.8L1573.8 198.8L1572.8 202.2L1569.8 206.2L1568.2 209.8L1565.2 213.2L1563.2 214.2L1561.2 216.2L1560.2 218.2L1556.2 222.2L1555.8 223.8L1552.2 226.8L1546.8 232.8L1542.2 234.2L1540.2 236.2L1538.8 238.8L1535.2 242.2L1533.2 248.8L1529.2 251.2L1527.2 251.2L1526.8 250.8L1525.2 251.2L1524.2 252.2L1524.2 255.2L1522.8 256.8L1520.2 257.8L1519.2 258.8L1516.8 259.8L1513.2 259.8L1511.8 261.8L1511.2 265.8L1510.2 268.2L1508.8 269.8L1505.2 271.2L1504.2 272.2L1504.2 273.2L1502.2 275.2L1499.2 276.2L1496.8 278.8L1495.8 282.8L1493.2 284.2L1490.8 284.2L1489.2 286.2L1489.2 289.2L1487.8 290.8L1485.2 291.2L1482.2 293.8L1481.2 295.2L1481.2 298.8L1479.8 301.2L1479.8 307.8L1477.2 309.8L1477.2 310.8L1477.8 311.2L1479.8 311.2L1482.2 309.8L1483.8 310.2L1482.8 311.8L1482.8 316.8L1485.8 313.8L1489.8 312.2L1491.2 310.8L1491.8 308.2L1493.8 305.8L1494.8 305.8L1497.8 304.2L1499.2 302.8L1500.2 297.8L1502.2 295.2L1505.8 294.8L1507.8 290.8L1511.2 289.8L1514.8 285.8L1517.2 285.2L1519.2 283.8L1520.8 281.2L1521.2 278.8L1522.2 277.8L1523.2 277.8L1527.2 275.8L1528.8 274.2L1532.8 268.2L1533.2 261.8L1535.8 259.2L1537.8 260.2L1539.2 260.2L1539.8 259.8L1539.2 257.2L1540.8 255.8L1544.2 254.2L1544.8 252.8L1547.2 249.8L1551.8 248.2L1554.2 245.2L1556.2 244.8L1558.8 243.2L1560.2 241.2L1566.2 236.8L1568.8 234.2L1572.8 228.8L1573.8 226.2L1573.8 223.8L1575.8 220.2L1578.8 217.2L1580.8 216.8L1583.8 214.2L1585.8 214.2L1588.2 212.8L1588.8 209.2L1590.8 206.2L1591.2 201.2L1592.8 199.8L1595.8 198.8L1599.8 194.8L1600.2 193.2L1600.2 190.2L1597.2 190.2L1592.8 186.8L1592.8 185.2L1593.2 184.8L1593.2 182.8ZM1606.8 171.8L1605.8 171.2L1604.2 171.8L1597.8 178.8L1596.8 181.2L1597.2 182.2L1599.2 183.8L1601.8 183.8L1602.2 183.2L1603.2 179.8L1603.2 177.8L1604.2 175.8L1606.2 173.8Z"/>
<path fill="#b9ff3e" fill-rule="evenodd" d="M1599.8 191.8L1599.2 191.2L1596.2 191.2L1595.2 190.8L1594.2 189.2L1592.2 189.2L1590.2 190.2L1587.2 190.8L1585.8 191.8L1581.2 197.8L1579.2 198.8L1574.8 198.8L1572.8 203.2L1569.8 207.8L1569.2 209.8L1561.8 216.8L1560.8 218.8L1557.2 221.8L1555.8 224.8L1546.2 233.8L1542.8 234.8L1536.2 242.2L1534.8 245.2L1535.2 248.2L1533.2 250.2L1526.2 252.8L1525.2 254.2L1525.2 255.2L1519.2 260.2L1514.2 260.8L1512.8 262.8L1511.8 268.8L1505.8 271.8L1504.8 273.2L1504.8 274.2L1503.2 275.8L1501.2 276.2L1498.2 278.2L1496.8 280.8L1496.8 282.8L1494.8 284.8L1492.2 284.8L1490.8 285.8L1490.8 288.8L1490.2 289.8L1488.2 291.2L1484.2 292.8L1482.8 294.2L1481.8 296.2L1481.8 299.2L1480.2 302.2L1480.2 304.2L1481.2 307.8L1484.8 308.8L1485.8 310.2L1485.8 311.2L1486.8 312.2L1488.8 311.8L1490.2 310.2L1490.8 307.8L1492.2 305.8L1497.8 303.2L1499.8 297.2L1501.8 294.8L1505.2 293.8L1506.2 290.8L1507.2 289.8L1510.8 289.2L1514.8 284.8L1517.2 284.2L1519.8 281.8L1520.2 277.2L1520.8 276.8L1524.2 276.8L1526.2 275.8L1529.2 272.8L1530.8 270.2L1530.8 265.8L1533.2 260.8L1535.2 258.8L1537.2 258.2L1539.8 255.2L1542.8 254.2L1546.2 249.8L1547.8 248.8L1549.2 248.8L1551.2 247.8L1553.8 244.2L1554.8 244.2L1557.8 242.8L1560.8 239.8L1563.8 238.2L1568.8 233.2L1572.8 226.8L1574.2 221.2L1578.8 216.8L1581.2 216.2L1583.8 213.8L1587.2 212.8L1588.2 209.2L1590.2 206.8L1590.8 200.8L1592.8 198.8L1595.8 197.8L1598.2 195.8L1599.2 194.2L1599.2 192.2ZM1591.8 183.2L1591.2 183.2L1588.8 186.2L1591.2 185.8ZM1605.8 172.2L1604.2 172.8L1601.2 176.2L1598.8 178.2L1597.8 180.2L1597.8 181.2L1598.8 182.2L1600.8 182.8L1602.2 180.8L1602.2 178.2L1605.8 173.2Z"/>
<path fill="#e2ff15" fill-rule="evenodd" d="M1598.8 192.2L1596.2 192.2L1594.8 193.2L1593.8 193.2L1592.2 191.2L1588.2 191.8L1586.2 192.8L1580.8 198.8L1575.2 199.8L1572.2 205.8L1575.2 205.8L1576.2 206.8L1575.8 209.2L1574.2 210.2L1573.2 209.8L1572.2 208.2L1571.2 208.2L1568.8 211.2L1561.8 217.8L1556.8 223.2L1556.2 224.8L1546.8 233.8L1543.2 235.2L1536.2 243.2L1535.2 246.2L1536.8 248.2L1534.8 250.2L1530.8 252.2L1529.2 252.2L1527.2 253.2L1524.8 257.2L1518.8 261.8L1515.2 261.2L1513.2 263.8L1513.2 266.8L1514.2 268.8L1514.2 270.2L1513.8 270.8L1509.2 270.8L1506.8 271.8L1505.8 272.8L1505.2 275.2L1503.8 276.8L1501.2 277.2L1497.8 279.8L1497.2 282.8L1495.2 285.2L1493.2 285.2L1491.8 286.2L1491.8 288.2L1492.2 288.8L1491.2 290.2L1484.8 293.2L1483.2 294.8L1482.2 297.2L1482.2 300.2L1481.2 301.8L1481.2 305.2L1481.8 306.2L1483.8 307.8L1485.2 307.8L1486.8 310.2L1488.2 310.8L1489.2 309.8L1489.8 306.8L1491.2 304.8L1495.2 304.2L1497.2 302.8L1497.8 300.2L1500.2 295.2L1501.2 294.2L1504.2 293.2L1505.2 291.8L1505.2 290.8L1506.8 289.2L1511.2 288.2L1512.2 286.2L1514.8 283.8L1517.2 283.2L1519.2 280.8L1519.2 277.8L1518.2 275.2L1518.8 274.8L1520.2 274.8L1523.2 276.2L1527.2 274.2L1529.2 271.8L1529.8 270.2L1528.2 267.8L1528.2 265.8L1531.8 262.8L1533.2 259.8L1534.2 258.8L1536.8 257.8L1539.8 254.8L1541.2 253.8L1542.2 253.8L1546.8 248.8L1550.8 247.2L1551.8 245.2L1553.8 243.2L1556.8 242.2L1560.2 238.8L1563.2 237.8L1566.8 234.8L1569.8 229.2L1572.2 226.2L1574.2 220.2L1577.8 216.8L1579.8 215.8L1581.8 215.8L1584.8 212.8L1587.2 211.2L1587.2 210.2L1589.2 208.2L1589.8 204.2L1590.2 203.8L1590.2 201.2L1591.2 199.2L1597.8 195.2ZM1604.8 173.8L1602.2 175.2L1598.2 180.2L1598.8 181.2L1600.8 181.2L1601.8 177.8Z"/>
<path fill="#ffde00" fill-rule="evenodd" d="M1597.8 193.8L1596.8 193.8L1595.8 195.2ZM1594.2 195.8L1592.2 195.2L1591.2 193.8L1588.2 193.2L1586.8 193.8L1581.2 199.2L1575.8 200.2L1574.2 202.8L1574.2 204.2L1576.8 206.2L1576.8 208.8L1574.8 211.2L1573.2 211.2L1572.2 210.8L1571.8 209.8L1570.2 210.2L1565.2 215.8L1563.2 216.8L1561.2 219.8L1557.2 223.2L1554.8 227.8L1552.8 229.8L1550.2 230.8L1546.8 234.2L1542.8 236.2L1536.8 243.2L1535.8 245.2L1537.2 245.8L1538.8 247.2L1537.8 249.2L1531.2 252.8L1527.8 253.8L1526.8 254.8L1526.2 256.8L1521.8 260.8L1520.8 263.2L1519.8 264.2L1518.2 262.8L1516.8 262.2L1514.8 262.8L1514.2 263.8L1514.2 266.8L1515.8 268.8L1516.2 271.2L1514.8 272.8L1510.8 271.2L1507.2 272.2L1506.2 273.8L1506.2 275.2L1504.2 277.2L1499.8 278.8L1497.8 280.8L1497.8 283.2L1495.8 285.8L1493.2 286.2L1492.8 287.2L1493.2 287.8L1493.2 289.8L1491.8 291.2L1489.2 291.8L1484.2 294.2L1483.2 295.8L1483.2 298.8L1483.8 299.2L1481.8 302.8L1482.2 305.8L1487.8 308.2L1488.2 305.8L1490.2 303.2L1492.2 303.2L1492.8 303.8L1495.8 303.2L1499.2 296.2L1502.8 293.2L1507.2 288.2L1509.8 288.2L1510.8 287.8L1513.2 283.8L1516.8 282.2L1518.2 280.8L1518.2 277.8L1516.8 275.2L1516.8 273.2L1517.2 272.8L1520.2 272.8L1522.2 275.2L1524.2 275.2L1526.2 274.2L1528.8 270.8L1527.2 268.2L1527.2 265.2L1531.8 261.8L1533.8 258.2L1536.2 257.2L1539.8 254.2L1541.8 253.2L1547.2 247.8L1549.8 247.2L1551.2 244.2L1552.8 242.8L1555.8 241.8L1560.2 237.2L1563.2 236.8L1566.2 234.2L1567.8 231.8L1568.2 229.2L1571.8 225.8L1573.8 219.2L1577.8 215.8L1582.8 214.8L1588.2 209.2L1589.2 206.8L1590.2 199.8ZM1520.2 271.2L1520.8 269.8L1522.2 269.8L1522.8 270.2L1521.8 271.8ZM1600.8 177.8L1599.2 179.8L1600.2 179.8Z"/>
<path fill="#ffaf00" fill-rule="evenodd" d="M1514.8 273.8L1511.2 272.2L1508.8 272.2L1507.2 273.2L1506.8 275.8L1504.2 278.2L1500.8 278.8L1498.8 280.2L1497.8 284.8L1494.2 287.2L1494.2 290.2L1492.8 291.8L1486.8 293.2L1484.2 295.2L1483.8 297.8L1485.8 299.8L1485.8 301.2L1485.2 301.8L1483.8 301.8L1482.8 302.8L1482.8 304.2L1483.8 305.8L1486.2 305.8L1486.8 304.2L1488.8 302.2L1495.2 302.8L1496.2 299.8L1499.2 295.8L1502.2 293.2L1506.8 288.2L1510.2 287.2L1512.8 283.2L1517.2 280.2L1517.2 277.2ZM1590.2 194.8L1587.2 194.8L1584.8 196.2L1581.2 199.8L1580.2 200.2L1577.8 200.2L1575.8 201.2L1575.2 203.8L1577.2 206.2L1576.8 211.2L1575.8 212.2L1571.2 212.2L1569.8 211.8L1565.8 216.2L1564.2 216.8L1562.2 219.2L1557.8 223.2L1555.2 227.8L1555.2 228.8L1553.8 230.2L1550.2 231.2L1547.2 234.2L1544.2 235.8L1540.2 239.8L1538.8 242.2L1536.8 244.2L1536.8 244.8L1538.2 244.8L1539.8 246.2L1540.2 248.8L1538.8 250.2L1536.2 250.8L1535.2 251.8L1531.8 252.8L1528.2 254.8L1526.8 257.2L1522.8 261.8L1521.8 263.8L1519.8 265.8L1518.8 265.8L1517.2 263.8L1515.8 263.8L1515.2 264.2L1515.2 266.2L1516.8 268.2L1517.2 271.2L1518.2 271.2L1520.8 268.2L1522.2 268.2L1524.2 269.8L1524.2 271.2L1522.2 273.8L1522.8 274.2L1525.2 273.8L1527.2 271.2L1527.2 270.2L1526.2 269.2L1526.2 264.8L1527.8 263.2L1530.2 262.2L1533.8 257.2L1536.2 256.8L1538.2 254.8L1541.2 253.2L1546.8 247.8L1548.2 246.8L1549.2 246.8L1550.8 243.8L1553.2 241.8L1554.8 241.2L1560.2 235.8L1563.2 235.8L1565.8 233.8L1567.8 228.2L1569.2 227.2L1572.2 223.8L1572.8 218.8L1577.2 214.8L1582.2 214.8L1583.2 214.2L1587.8 209.8L1588.8 206.8L1589.8 200.2L1591.2 197.8L1591.2 196.2Z"/>
<path fill="#ff8000" fill-rule="evenodd" d="M1513.8 274.2L1512.2 274.2L1510.8 273.2L1508.2 273.2L1507.2 276.2L1504.8 278.8L1501.2 279.2L1499.2 280.2L1498.8 281.2L1498.8 283.8L1498.2 284.8L1495.2 287.2L1494.8 288.2L1495.2 288.8L1494.8 290.8L1493.2 292.2L1490.2 293.2L1487.8 293.2L1484.8 295.2L1484.2 296.8L1486.8 299.2L1487.8 301.2L1492.8 301.2L1494.2 301.8L1495.2 299.2L1498.8 296.2L1500.2 293.8L1501.2 293.8L1504.2 290.8L1504.2 289.8L1505.8 288.2L1506.8 288.2L1510.8 285.8L1511.2 284.2L1516.8 278.2L1514.2 275.8ZM1574.8 213.8L1573.2 213.8L1571.2 215.2L1569.2 215.2L1568.2 216.2L1564.2 217.8L1561.8 220.8L1557.2 224.8L1555.8 228.8L1553.8 230.8L1549.8 232.2L1547.2 234.8L1544.2 236.2L1539.2 242.2L1539.2 243.2L1540.2 244.8L1540.2 246.2L1541.2 247.8L1541.2 249.2L1539.2 251.2L1536.2 252.8L1533.8 252.8L1528.8 255.2L1527.2 257.8L1524.8 260.2L1520.8 266.2L1520.8 267.2L1524.8 268.2L1525.2 267.8L1525.2 265.2L1527.2 262.8L1530.2 261.2L1532.2 257.8L1533.8 256.2L1541.2 252.8L1544.2 249.2L1546.8 247.2L1548.2 246.8L1549.8 245.2L1550.2 243.8L1552.2 241.8L1554.2 240.8L1559.2 235.2L1560.2 234.8L1563.8 234.8L1565.2 233.2L1567.2 227.8L1571.2 224.8L1572.2 222.2L1571.8 221.8L1571.8 218.8L1572.2 217.2L1574.8 215.2ZM1589.8 195.8L1586.2 196.2L1581.8 200.2L1577.8 200.8L1576.2 201.8L1575.8 202.8L1577.8 206.8L1577.2 209.8L1577.8 210.2L1577.8 212.2L1578.8 213.8L1579.8 214.2L1583.2 213.8L1587.2 210.2L1587.2 208.2L1589.8 199.8Z"/>
<path fill="#ff5000" fill-rule="evenodd" d="M1512.2 275.2L1508.8 274.8L1507.8 276.8L1505.2 279.2L1500.2 280.2L1499.2 281.2L1499.2 285.2L1496.2 287.8L1494.8 291.8L1493.2 293.2L1489.8 293.8L1489.2 294.2L1486.8 294.2L1485.2 295.8L1485.8 297.2L1488.8 300.8L1493.2 300.2L1494.2 298.8L1498.2 296.2L1498.2 295.2L1499.8 293.2L1502.2 292.8L1503.2 291.8L1503.8 288.8L1505.2 287.2L1507.8 287.2L1510.8 284.8L1514.2 280.2L1514.2 278.8L1513.2 277.2L1513.2 276.2ZM1533.2 253.8L1532.8 254.2L1531.2 254.2L1528.8 256.2L1525.2 260.8L1521.8 266.8L1524.2 266.8L1524.8 264.2L1526.8 262.2L1530.2 260.2L1532.2 256.8L1533.8 255.2ZM1571.2 216.8L1568.2 216.8L1563.8 219.2L1558.2 224.2L1555.8 229.2L1553.8 231.2L1549.8 232.8L1547.8 234.8L1544.2 236.8L1543.8 238.2L1540.8 240.8L1540.8 245.2L1542.2 248.2L1542.2 249.8L1539.8 252.8L1544.2 248.8L1548.2 246.2L1549.8 243.8L1552.8 241.2L1558.8 234.8L1561.2 233.8L1562.8 234.2L1564.8 232.8L1566.2 228.2L1568.8 225.8L1570.2 225.2L1571.2 223.8ZM1589.2 196.8L1585.8 197.2L1584.2 198.2L1582.8 200.2L1580.8 201.2L1578.2 201.2L1576.8 202.2L1576.8 204.2L1577.8 205.8L1578.2 211.2L1580.2 213.8L1582.8 213.2L1585.8 211.8L1586.8 210.2L1586.2 208.8L1583.8 208.8L1582.8 206.8L1583.8 205.8L1586.8 205.8L1587.8 204.8L1589.2 200.8L1589.2 199.2L1588.8 198.8L1588.8 197.2Z"/>
<path fill="#ff2100" fill-rule="evenodd" d="M1511.8 276.8L1509.2 276.2L1503.8 280.8L1500.8 280.8L1499.8 281.8L1499.8 283.2L1500.8 284.2L1500.8 285.2L1496.8 288.2L1495.8 291.2L1493.8 293.8L1486.8 295.2L1486.2 296.2L1487.2 298.2L1489.2 300.2L1492.2 299.8L1494.2 297.8L1497.2 296.2L1498.2 293.8L1499.8 292.2L1500.8 292.2L1502.2 291.2L1502.8 289.2L1504.8 286.2L1508.2 286.8L1510.8 284.2L1512.8 280.8L1512.8 279.2ZM1532.2 254.8L1529.2 256.8L1526.8 259.8L1526.2 261.8L1529.8 259.8L1531.8 256.8ZM1570.2 217.8L1567.8 217.8L1564.8 219.2L1558.2 225.2L1556.2 228.8L1558.2 229.8L1558.2 230.8L1557.2 231.8L1554.2 231.8L1553.8 231.2L1549.8 233.2L1544.8 237.2L1544.8 239.2L1542.2 241.2L1541.2 243.8L1541.8 244.2L1541.8 245.8L1543.8 248.8L1546.8 246.8L1549.2 244.2L1549.8 242.8L1551.2 241.8L1558.8 233.8L1559.8 233.2L1563.2 233.2L1564.8 231.8L1565.8 227.8L1568.2 225.2L1570.8 223.8ZM1588.2 197.8L1585.2 198.2L1581.8 201.8L1578.2 201.8L1577.2 202.8L1577.2 204.2L1578.2 205.8L1578.8 210.8L1580.2 212.8L1581.8 212.8L1585.2 211.2L1584.8 209.8L1583.2 209.8L1582.2 208.8L1582.2 205.8L1583.8 204.2L1586.8 204.8L1587.8 203.8L1588.8 201.2Z"/>
<path fill="#d60000" fill-rule="evenodd" d="M1502.8 285.8L1499.2 287.2L1497.2 289.2L1495.8 292.8L1493.8 294.8L1488.2 295.8L1487.8 296.2L1488.2 298.2L1489.2 299.2L1491.2 299.2L1495.2 296.2L1499.2 291.8L1501.8 290.2L1502.8 287.8ZM1511.2 277.2L1509.2 277.2L1504.2 281.8L1502.8 282.2L1501.2 281.2L1500.2 282.8L1502.8 282.8L1503.8 283.8L1503.8 285.2L1505.2 284.8L1508.8 285.8L1509.8 284.8L1509.8 283.8L1511.8 280.2ZM1529.2 258.8L1528.8 258.8L1528.2 259.8ZM1556.2 232.8L1554.8 232.8L1554.2 232.2L1551.2 232.8L1545.8 236.8L1544.8 240.2L1542.2 242.8L1542.2 244.8L1543.2 246.8L1544.2 247.2L1545.8 246.8L1548.2 244.8L1548.2 243.2L1550.2 241.2L1552.8 239.8L1553.2 237.8L1556.2 234.8ZM1569.8 218.8L1567.8 218.8L1564.2 220.2L1558.8 225.2L1557.2 227.8L1557.8 228.2L1560.2 226.8L1561.2 226.8L1562.8 227.8L1560.2 230.2L1560.2 232.8L1562.8 232.8L1564.8 230.2L1564.8 227.2L1567.2 224.8L1568.8 224.2L1570.2 222.8L1569.8 221.8ZM1587.2 198.2L1584.8 199.2L1582.8 202.2L1578.8 202.2L1577.8 203.2L1578.8 205.8L1579.2 209.8L1580.8 211.8L1582.2 210.8L1581.2 208.2L1581.8 205.2L1583.8 203.2L1586.8 203.8L1588.2 201.8L1588.2 200.2Z"/>
<path fill="#9c0000" fill-rule="evenodd" d="M1493.2 295.8L1492.8 296.2L1489.8 296.2L1489.2 296.8L1489.2 298.2L1490.8 298.8ZM1501.2 287.8L1500.2 287.8L1497.8 290.2L1497.2 291.8L1500.8 289.8ZM1510.8 278.8L1510.2 278.2L1508.8 278.2L1505.8 281.2L1505.2 283.8L1508.2 283.8L1510.2 281.2ZM1555.2 233.8L1552.2 232.8L1546.2 236.8L1545.2 239.8L1545.8 241.2L1548.8 241.8L1550.8 240.8L1552.2 239.2L1553.2 236.8L1555.2 234.8ZM1563.8 229.2L1561.2 230.8L1561.2 232.2L1563.2 231.8ZM1568.8 219.8L1565.8 221.2L1563.8 221.2L1558.2 226.8L1560.8 224.8L1562.8 225.8L1565.8 225.2L1568.8 221.8ZM1579.2 202.8L1578.8 203.2L1578.8 205.2L1579.2 205.8L1579.2 207.8L1580.2 209.2L1580.8 208.8L1580.8 206.2L1581.8 203.8L1580.2 202.8ZM1586.8 198.8L1584.8 200.2L1584.2 202.2L1586.8 202.8L1587.8 201.8Z"/></g>
<line x1="1108.00" y1="686.2" x2="1752.50" y2="31.2" stroke="#000" stroke-width="1.9"/>
<rect x="1108.00" y="32.0" width="644.50" height="654.0" fill="none" stroke="#2a2a2a" stroke-width="1.35"/>
<line x1="1108.00" y1="686.0" x2="1108.00" y2="690.5" stroke="#222" stroke-width="1.2"/>
<text transform="translate(1108.00,722.2) scale(1,1.055)" class="tb" text-anchor="middle">180</text>
<line x1="1103.50" y1="686.00" x2="1108.00" y2="686.00" stroke="#222" stroke-width="1.2"/>
<text transform="translate(1099.00,700.10) scale(1,1.045)" class="tb" text-anchor="end">180</text>
<line x1="1188.56" y1="686.0" x2="1188.56" y2="690.5" stroke="#222" stroke-width="1.2"/>
<text transform="translate(1188.56,722.2) scale(1,1.055)" class="tb" text-anchor="middle">200</text>
<line x1="1103.50" y1="604.25" x2="1108.00" y2="604.25" stroke="#222" stroke-width="1.2"/>
<text transform="translate(1099.00,618.35) scale(1,1.045)" class="tb" text-anchor="end">200</text>
<line x1="1269.12" y1="686.0" x2="1269.12" y2="690.5" stroke="#222" stroke-width="1.2"/>
<text transform="translate(1269.12,722.2) scale(1,1.055)" class="tb" text-anchor="middle">220</text>
<line x1="1103.50" y1="522.50" x2="1108.00" y2="522.50" stroke="#222" stroke-width="1.2"/>
<text transform="translate(1099.00,536.60) scale(1,1.045)" class="tb" text-anchor="end">220</text>
<line x1="1349.69" y1="686.0" x2="1349.69" y2="690.5" stroke="#222" stroke-width="1.2"/>
<text transform="translate(1349.69,722.2) scale(1,1.055)" class="tb" text-anchor="middle">240</text>
<line x1="1103.50" y1="440.75" x2="1108.00" y2="440.75" stroke="#222" stroke-width="1.2"/>
<text transform="translate(1099.00,454.85) scale(1,1.045)" class="tb" text-anchor="end">240</text>
<line x1="1430.25" y1="686.0" x2="1430.25" y2="690.5" stroke="#222" stroke-width="1.2"/>
<text transform="translate(1430.25,722.2) scale(1,1.055)" class="tb" text-anchor="middle">260</text>
<line x1="1103.50" y1="359.00" x2="1108.00" y2="359.00" stroke="#222" stroke-width="1.2"/>
<text transform="translate(1099.00,373.10) scale(1,1.045)" class="tb" text-anchor="end">260</text>
<line x1="1510.81" y1="686.0" x2="1510.81" y2="690.5" stroke="#222" stroke-width="1.2"/>
<text transform="translate(1510.81,722.2) scale(1,1.055)" class="tb" text-anchor="middle">280</text>
<line x1="1103.50" y1="277.25" x2="1108.00" y2="277.25" stroke="#222" stroke-width="1.2"/>
<text transform="translate(1099.00,291.35) scale(1,1.045)" class="tb" text-anchor="end">280</text>
<line x1="1591.38" y1="686.0" x2="1591.38" y2="690.5" stroke="#222" stroke-width="1.2"/>
<text transform="translate(1591.38,722.2) scale(1,1.055)" class="tb" text-anchor="middle">300</text>
<line x1="1103.50" y1="195.50" x2="1108.00" y2="195.50" stroke="#222" stroke-width="1.2"/>
<text transform="translate(1099.00,209.60) scale(1,1.045)" class="tb" text-anchor="end">300</text>
<line x1="1671.94" y1="686.0" x2="1671.94" y2="690.5" stroke="#222" stroke-width="1.2"/>
<text transform="translate(1671.94,722.2) scale(1,1.055)" class="tb" text-anchor="middle">320</text>
<line x1="1103.50" y1="113.75" x2="1108.00" y2="113.75" stroke="#222" stroke-width="1.2"/>
<text transform="translate(1099.00,127.85) scale(1,1.045)" class="tb" text-anchor="end">320</text>
<text transform="translate(1148.5,73.7) scale(1,1.03)" class="tr">RMSE<tspan dx="-3.5"> = 2.621K</tspan></text>
<text transform="translate(1148.5,122.5) scale(1,1.03)" class="tr">MAE<tspan dx="-2"> = </tspan><tspan dx="-1">1.971K</tspan></text>
<text transform="translate(1148.5,174.8) scale(1,1.03)" class="tr">R<tspan dx="0" dy="-22" font-size="27">2</tspan><tspan dx="0.5" dy="22"> = 0.95</tspan></text>
<text transform="translate(1148.5,228.8) scale(1,1.03)" class="tr">N<tspan dx="-1.5"> = </tspan><tspan dx="1" textLength="96" lengthAdjust="spacingAndGlyphs">84771</tspan></text>
<text transform="translate(1430.2,763) scale(0.988,1.04)" class="tb" text-anchor="middle">In-situ daily Ta (K)</text>
<text transform="translate(1027.1,359) rotate(-90) scale(0.986,1.04)" x="0" y="0" class="tb" text-anchor="middle">Estimated daily Ta (K)</text>
<text x="1085.5" y="779.5" class="tr" style="font-size:58px">(b)</text>
<rect x="1792.5" y="32.0" width="33.0" height="654.0" fill="url(#jet)" stroke="#222" stroke-width="1"/>
<line x1="1825.5" y1="686.00" x2="1830.0" y2="686.00" stroke="#333" stroke-width="1.2"/>
<text transform="translate(1834.5,694.90) scale(1,1.05)" class="tc">0.0</text>
<line x1="1825.5" y1="555.20" x2="1830.0" y2="555.20" stroke="#333" stroke-width="1.2"/>
<text transform="translate(1834.5,564.10) scale(1,1.05)" class="tc">0.2</text>
<line x1="1825.5" y1="424.40" x2="1830.0" y2="424.40" stroke="#333" stroke-width="1.2"/>
<text transform="translate(1834.5,433.30) scale(1,1.05)" class="tc">0.4</text>
<line x1="1825.5" y1="293.60" x2="1830.0" y2="293.60" stroke="#333" stroke-width="1.2"/>
<text transform="translate(1834.5,302.50) scale(1,1.05)" class="tc">0.6</text>
<line x1="1825.5" y1="162.80" x2="1830.0" y2="162.80" stroke="#333" stroke-width="1.2"/>
<text transform="translate(1834.5,171.70) scale(1,1.05)" class="tc">0.8</text>
<line x1="1825.5" y1="32.00" x2="1830.0" y2="32.00" stroke="#333" stroke-width="1.2"/>
<text transform="translate(1834.5,40.90) scale(1,1.05)" class="tc">1.0</text>
</svg></body></html>
